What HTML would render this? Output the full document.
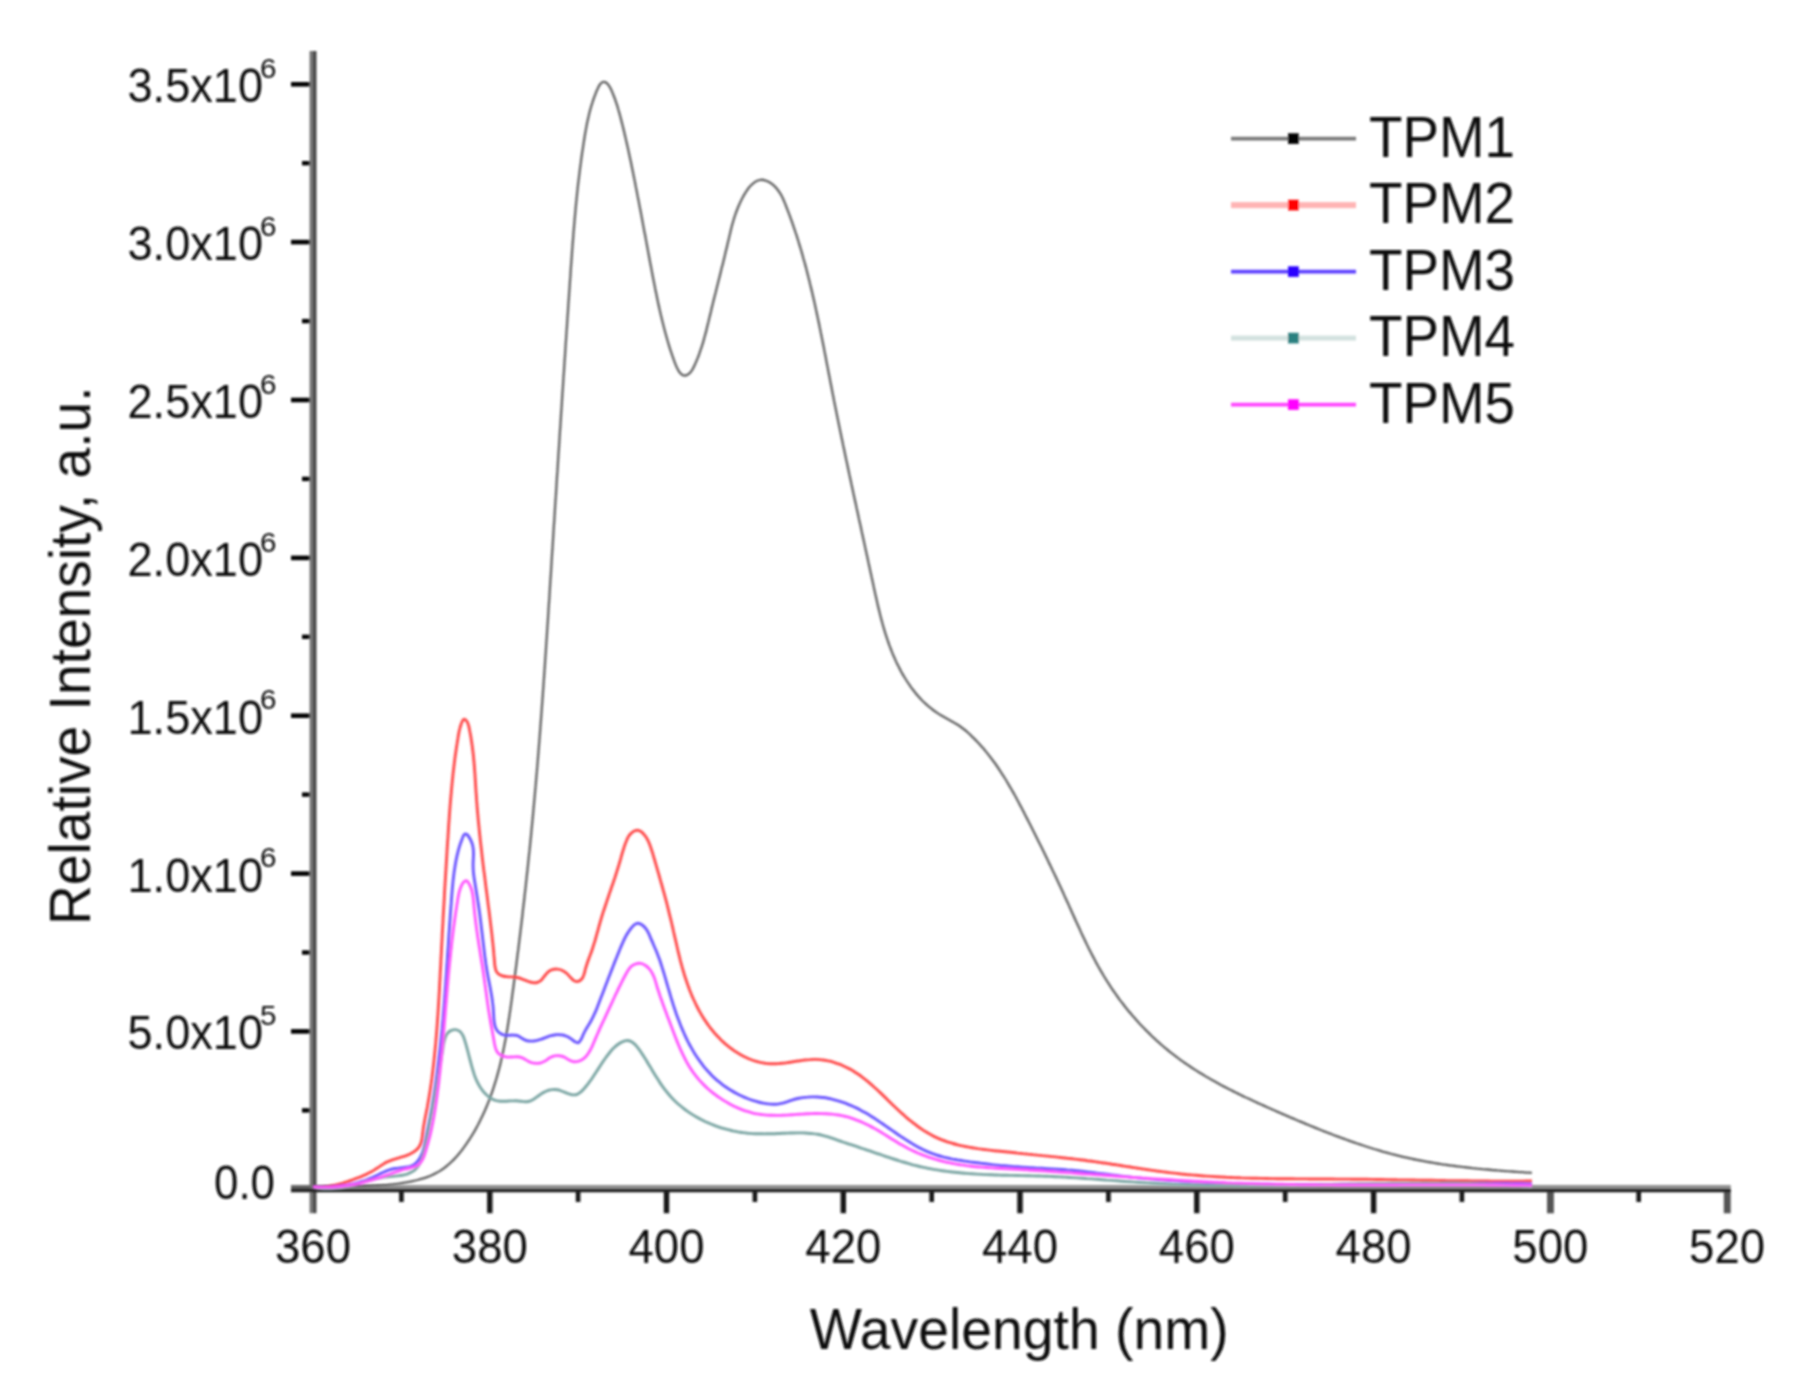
<!DOCTYPE html>
<html lang="en"><head><meta charset="utf-8"><title>Fluorescence spectra TPM1-TPM5</title>
<style>
html,body{margin:0;padding:0;background:#fff;}
body{width:1801px;height:1391px;overflow:hidden;}
svg{display:block;}
text{font-family:"Liberation Sans", Arial, Helvetica, sans-serif;fill:#111;}
.tick{font-size:49px;}
.sup{font-size:28.5px;}
.title{font-size:57.5px;}
.leg{font-size:58px;}
.curve{fill:none;stroke-linejoin:round;stroke-linecap:butt;}
</style></head><body>
<svg width="1801" height="1391" viewBox="0 0 1801 1391">
<defs>
<filter id="b1" x="-5%" y="-5%" width="110%" height="110%"><feGaussianBlur stdDeviation="0.9"/></filter>
<filter id="b2" x="-5%" y="-5%" width="110%" height="110%"><feGaussianBlur stdDeviation="0.95"/></filter>
</defs>
<rect x="0" y="0" width="1801" height="1391" fill="#ffffff"/>
<g filter="url(#b2)">
<rect x="291" y="1187.0" width="20" height="4.6" fill="#000"/>
<rect x="302" y="1108.2" width="9" height="4.4" fill="#000"/>
<rect x="291" y="1029.1" width="20" height="4.6" fill="#000"/>
<rect x="302" y="950.3" width="9" height="4.4" fill="#000"/>
<rect x="291" y="871.3" width="20" height="4.6" fill="#000"/>
<rect x="302" y="792.4" width="9" height="4.4" fill="#000"/>
<rect x="291" y="713.4" width="20" height="4.6" fill="#000"/>
<rect x="302" y="634.6" width="9" height="4.4" fill="#000"/>
<rect x="291" y="555.6" width="20" height="4.6" fill="#000"/>
<rect x="302" y="476.7" width="9" height="4.4" fill="#000"/>
<rect x="291" y="397.7" width="20" height="4.6" fill="#000"/>
<rect x="302" y="318.9" width="9" height="4.4" fill="#000"/>
<rect x="291" y="239.8" width="20" height="4.6" fill="#000"/>
<rect x="302" y="161.0" width="9" height="4.4" fill="#000"/>
<rect x="291" y="82.0" width="20" height="4.6" fill="#000"/>
<rect x="399.1" y="1190" width="4.6" height="12" fill="#151515"/>
<rect x="487.1" y="1190" width="5.4" height="23.2" fill="#151515"/>
<rect x="575.8" y="1190" width="4.6" height="12" fill="#151515"/>
<rect x="663.8" y="1190" width="5.4" height="23.2" fill="#151515"/>
<rect x="752.6" y="1190" width="4.6" height="12" fill="#151515"/>
<rect x="840.6" y="1190" width="5.4" height="23.2" fill="#151515"/>
<rect x="929.4" y="1190" width="4.6" height="12" fill="#151515"/>
<rect x="1017.3" y="1190" width="5.4" height="23.2" fill="#151515"/>
<rect x="1106.1" y="1190" width="4.6" height="12" fill="#151515"/>
<rect x="1194.1" y="1190" width="5.4" height="23.2" fill="#151515"/>
<rect x="1282.9" y="1190" width="4.6" height="12" fill="#151515"/>
<rect x="1370.9" y="1190" width="5.4" height="23.2" fill="#151515"/>
<rect x="1459.6" y="1190" width="4.6" height="12" fill="#151515"/>
<rect x="1547.0" y="1190" width="6.9" height="23.3" fill="#555555"/>
<rect x="1636.4" y="1190" width="4.6" height="12" fill="#151515"/>
<rect x="1723.8" y="1190" width="6.9" height="23.3" fill="#555555"/>
<rect x="309.6" y="51" width="3.1" height="1162.2" fill="#707070"/>
<rect x="312.7" y="51" width="3.8" height="1162.2" fill="#464646"/>
<rect x="316.5" y="1185" width="1414.3" height="3.6" fill="#909090"/>
<rect x="291" y="1188.6" width="1439.8" height="3.7" fill="#222222"/>
<rect x="291" y="1185" width="19" height="3.6" fill="#666"/>
</g>
<g filter="url(#b1)">
<path class="curve" d="M313.0 1187.6C313.8 1187.5 316.3 1187.3 317.9 1187.2C319.6 1187.0 321.3 1186.9 322.9 1186.9C324.6 1186.8 326.2 1186.7 327.9 1186.6C329.6 1186.6 331.2 1186.5 332.9 1186.4C334.5 1186.4 336.2 1186.4 337.9 1186.3C339.6 1186.3 341.2 1186.3 342.9 1186.2C344.6 1186.2 346.2 1186.2 347.9 1186.2C349.6 1186.2 351.3 1186.1 352.9 1186.1C354.6 1186.1 356.3 1186.1 358.0 1186.1C359.6 1186.0 361.3 1186.0 363.0 1186.0C364.6 1185.9 366.3 1185.9 368.0 1185.9C369.7 1185.8 371.3 1185.8 373.0 1185.7C374.7 1185.6 376.3 1185.6 378.0 1185.5C379.7 1185.4 381.3 1185.3 383.0 1185.2C384.7 1185.1 386.3 1185.0 388.0 1184.8C389.6 1184.7 391.3 1184.5 392.9 1184.3C394.6 1184.2 396.2 1184.0 397.9 1183.8C399.5 1183.5 401.2 1183.3 402.8 1183.0C404.5 1182.8 406.1 1182.5 407.7 1182.2C409.4 1181.9 411.0 1181.6 412.6 1181.2C414.2 1180.8 415.8 1180.4 417.5 1180.0C419.1 1179.6 420.7 1179.2 422.3 1178.7C423.9 1178.2 425.5 1177.7 427.0 1177.1C428.6 1176.5 430.1 1175.9 431.7 1175.2C433.2 1174.6 434.7 1173.9 436.1 1173.1C437.6 1172.3 439.0 1171.5 440.4 1170.6C441.8 1169.7 443.1 1168.8 444.4 1167.8C445.7 1166.8 447.0 1165.7 448.3 1164.7C449.5 1163.6 450.8 1162.5 452.0 1161.3C453.2 1160.2 454.3 1159.0 455.5 1157.7C456.6 1156.5 457.7 1155.2 458.8 1153.9C459.9 1152.7 460.9 1151.3 462.0 1150.0C463.0 1148.7 464.0 1147.3 465.0 1145.9C466.0 1144.5 467.0 1143.1 467.9 1141.7C468.8 1140.3 469.7 1138.9 470.6 1137.5C471.5 1136.1 472.4 1134.6 473.3 1133.2C474.1 1131.8 475.0 1130.3 475.8 1128.9C476.6 1127.4 477.4 1125.9 478.2 1124.5C478.9 1123.0 479.7 1121.5 480.4 1120.0C481.2 1118.5 481.9 1117.1 482.6 1115.6C483.3 1114.1 484.0 1112.5 484.7 1111.0C485.3 1109.5 486.0 1108.0 486.6 1106.5C487.3 1105.0 487.9 1103.4 488.5 1101.9C489.1 1100.4 489.7 1098.8 490.2 1097.3C490.8 1095.7 491.4 1094.2 491.9 1092.6C492.5 1091.1 493.0 1089.5 493.5 1087.9C494.0 1086.4 494.5 1084.8 495.0 1083.2C495.5 1081.6 496.0 1080.0 496.4 1078.5C496.9 1076.9 497.3 1075.3 497.8 1073.7C498.2 1072.1 498.6 1070.5 499.1 1068.9C499.5 1067.3 499.9 1065.7 500.3 1064.1C500.7 1062.4 501.0 1060.8 501.4 1059.2C501.8 1057.6 502.2 1056.0 502.5 1054.3C502.9 1052.7 503.2 1051.1 503.5 1049.5C503.9 1047.8 504.2 1046.2 504.5 1044.6C504.8 1042.9 505.2 1041.3 505.5 1039.6C505.8 1038.0 506.1 1036.4 506.3 1034.7C506.6 1033.1 506.9 1031.4 507.2 1029.8C507.5 1028.1 507.7 1026.5 508.0 1024.8C508.3 1023.2 508.5 1021.5 508.8 1019.8C509.0 1018.2 509.3 1016.5 509.5 1014.9C509.8 1013.2 510.0 1011.6 510.3 1009.9C510.5 1008.2 510.7 1006.6 511.0 1004.9C511.2 1003.3 511.4 1001.6 511.7 999.9C511.9 998.3 512.1 996.6 512.3 994.9C512.6 993.3 512.8 991.6 513.0 990.0C513.2 988.3 513.5 986.6 513.7 985.0C513.9 983.3 514.1 981.7 514.3 980.0C514.5 978.3 514.8 976.7 515.0 975.0C515.2 973.4 515.4 971.7 515.6 970.0C515.8 968.4 516.1 966.7 516.3 965.1C516.5 963.4 516.7 961.8 516.9 960.1C517.1 958.4 517.3 956.8 517.5 955.1C517.7 953.5 517.9 951.8 518.2 950.2C518.4 948.5 518.6 946.8 518.8 945.2C519.0 943.5 519.2 941.9 519.4 940.2C519.6 938.6 519.8 936.9 520.0 935.3C520.2 933.6 520.4 931.9 520.6 930.3C520.8 928.6 521.0 927.0 521.2 925.3C521.4 923.7 521.6 922.0 521.8 920.4C522.0 918.7 522.2 917.1 522.4 915.4C522.6 913.7 522.7 912.1 522.9 910.4C523.1 908.8 523.3 907.1 523.5 905.5C523.7 903.8 523.9 902.2 524.1 900.5C524.3 898.9 524.5 897.2 524.6 895.6C524.8 893.9 525.0 892.3 525.2 890.6C525.4 888.9 525.6 887.3 525.8 885.6C525.9 884.0 526.1 882.3 526.3 880.7C526.5 879.0 526.7 877.4 526.8 875.7C527.0 874.1 527.2 872.4 527.4 870.8C527.5 869.1 527.7 867.5 527.9 865.8C528.1 864.2 528.2 862.5 528.4 860.8C528.6 859.2 528.8 857.5 528.9 855.9C529.1 854.2 529.3 852.6 529.5 850.9C529.6 849.3 529.8 847.6 530.0 846.0C530.1 844.3 530.3 842.7 530.5 841.0C530.6 839.3 530.8 837.7 531.0 836.0C531.1 834.4 531.3 832.7 531.4 831.1C531.6 829.4 531.8 827.8 531.9 826.1C532.1 824.5 532.2 822.8 532.4 821.1C532.6 819.5 532.7 817.8 532.9 816.2C533.0 814.5 533.2 812.9 533.3 811.2C533.5 809.6 533.6 807.9 533.8 806.2C533.9 804.6 534.1 802.9 534.2 801.3C534.4 799.6 534.5 798.0 534.7 796.3C534.8 794.6 535.0 793.0 535.1 791.3C535.3 789.7 535.4 788.0 535.6 786.4C535.7 784.7 535.9 783.0 536.0 781.4C536.2 779.7 536.3 778.1 536.4 776.4C536.6 774.7 536.7 773.1 536.9 771.4C537.0 769.8 537.1 768.1 537.3 766.4C537.4 764.8 537.6 763.1 537.7 761.5C537.8 759.8 538.0 758.1 538.1 756.5C538.2 754.8 538.4 753.2 538.5 751.5C538.6 749.8 538.8 748.2 538.9 746.5C539.0 744.8 539.2 743.2 539.3 741.5C539.4 739.9 539.6 738.2 539.7 736.5C539.8 734.9 539.9 733.2 540.1 731.5C540.2 729.9 540.3 728.2 540.4 726.6C540.6 724.9 540.7 723.2 540.8 721.6C541.0 719.9 541.1 718.2 541.2 716.6C541.3 714.9 541.4 713.3 541.6 711.6C541.7 709.9 541.8 708.3 541.9 706.6C542.1 704.9 542.2 703.3 542.3 701.6C542.4 699.9 542.5 698.3 542.7 696.6C542.8 694.9 542.9 693.3 543.0 691.6C543.1 690.0 543.3 688.3 543.4 686.6C543.5 685.0 543.6 683.3 543.7 681.6C543.8 680.0 544.0 678.3 544.1 676.6C544.2 675.0 544.3 673.3 544.4 671.6C544.5 670.0 544.7 668.3 544.8 666.6C544.9 665.0 545.0 663.3 545.1 661.6C545.2 660.0 545.3 658.3 545.4 656.7C545.6 655.0 545.7 653.3 545.8 651.7C545.9 650.0 546.0 648.3 546.1 646.7C546.2 645.0 546.3 643.3 546.4 641.7C546.6 640.0 546.7 638.3 546.8 636.7C546.9 635.0 547.0 633.3 547.1 631.7C547.2 630.0 547.3 628.3 547.4 626.7C547.5 625.0 547.7 623.3 547.8 621.7C547.9 620.0 548.0 618.3 548.1 616.7C548.2 615.0 548.3 613.3 548.4 611.7C548.5 610.0 548.6 608.3 548.7 606.7C548.8 605.0 548.9 603.4 549.1 601.7C549.2 600.0 549.3 598.4 549.4 596.7C549.5 595.0 549.6 593.4 549.7 591.7C549.8 590.0 549.9 588.4 550.0 586.7C550.1 585.0 550.2 583.4 550.3 581.7C550.4 580.0 550.5 578.4 550.7 576.7C550.8 575.0 550.9 573.4 551.0 571.7C551.1 570.1 551.2 568.4 551.3 566.7C551.4 565.1 551.5 563.4 551.6 561.7C551.7 560.1 551.8 558.4 551.9 556.7C552.0 555.1 552.1 553.4 552.2 551.7C552.4 550.1 552.5 548.4 552.6 546.8C552.7 545.1 552.8 543.4 552.9 541.8C553.0 540.1 553.1 538.4 553.2 536.8C553.3 535.1 553.4 533.4 553.5 531.8C553.6 530.1 553.7 528.5 553.8 526.8C553.9 525.1 554.0 523.5 554.2 521.8C554.3 520.1 554.4 518.5 554.5 516.8C554.6 515.1 554.7 513.5 554.8 511.8C554.9 510.2 555.0 508.5 555.1 506.8C555.2 505.2 555.3 503.5 555.4 501.8C555.5 500.2 555.6 498.5 555.8 496.9C555.9 495.2 556.0 493.5 556.1 491.9C556.2 490.2 556.3 488.5 556.4 486.9C556.5 485.2 556.6 483.6 556.7 481.9C556.8 480.2 556.9 478.6 557.0 476.9C557.1 475.2 557.2 473.6 557.4 471.9C557.5 470.3 557.6 468.6 557.7 466.9C557.8 465.3 557.9 463.6 558.0 461.9C558.1 460.3 558.2 458.6 558.3 457.0C558.4 455.3 558.5 453.6 558.6 452.0C558.8 450.3 558.9 448.7 559.0 447.0C559.1 445.3 559.2 443.7 559.3 442.0C559.4 440.3 559.5 438.7 559.6 437.0C559.7 435.4 559.8 433.7 559.9 432.0C560.0 430.4 560.2 428.7 560.3 427.0C560.4 425.4 560.5 423.7 560.6 422.1C560.7 420.4 560.8 418.7 560.9 417.1C561.0 415.4 561.1 413.8 561.2 412.1C561.3 410.4 561.5 408.8 561.6 407.1C561.7 405.4 561.8 403.8 561.9 402.1C562.0 400.5 562.1 398.8 562.2 397.1C562.3 395.5 562.4 393.8 562.5 392.1C562.7 390.5 562.8 388.8 562.9 387.2C563.0 385.5 563.1 383.8 563.2 382.2C563.3 380.5 563.4 378.9 563.5 377.2C563.6 375.5 563.7 373.9 563.9 372.2C564.0 370.5 564.1 368.9 564.2 367.2C564.3 365.6 564.4 363.9 564.5 362.2C564.6 360.6 564.7 358.9 564.9 357.2C565.0 355.6 565.1 353.9 565.2 352.3C565.3 350.6 565.4 348.9 565.5 347.3C565.6 345.6 565.7 343.9 565.8 342.3C566.0 340.6 566.1 339.0 566.2 337.3C566.3 335.6 566.4 334.0 566.5 332.3C566.6 330.6 566.7 329.0 566.9 327.3C567.0 325.7 567.1 324.0 567.2 322.3C567.3 320.7 567.4 319.0 567.5 317.3C567.6 315.7 567.8 314.0 567.9 312.4C568.0 310.7 568.1 309.0 568.2 307.4C568.3 305.7 568.4 304.0 568.5 302.4C568.7 300.7 568.8 299.0 568.9 297.4C569.0 295.7 569.1 294.1 569.2 292.4C569.3 290.7 569.5 289.1 569.6 287.4C569.7 285.7 569.8 284.1 569.9 282.4C570.0 280.7 570.1 279.1 570.3 277.4C570.4 275.8 570.5 274.1 570.6 272.4C570.7 270.8 570.8 269.1 570.9 267.4C571.1 265.8 571.2 264.1 571.3 262.4C571.4 260.8 571.5 259.1 571.7 257.5C571.8 255.8 571.9 254.1 572.0 252.5C572.1 250.8 572.3 249.1 572.4 247.5C572.5 245.8 572.6 244.1 572.8 242.5C572.9 240.8 573.0 239.2 573.2 237.5C573.3 235.8 573.4 234.2 573.5 232.5C573.7 230.8 573.8 229.2 574.0 227.5C574.1 225.9 574.2 224.2 574.4 222.5C574.5 220.9 574.7 219.2 574.8 217.5C575.0 215.9 575.1 214.2 575.3 212.6C575.4 210.9 575.6 209.2 575.7 207.6C575.9 205.9 576.0 204.3 576.2 202.6C576.4 201.0 576.5 199.3 576.7 197.6C576.9 196.0 577.0 194.3 577.2 192.7C577.4 191.0 577.6 189.4 577.7 187.7C577.9 186.0 578.1 184.4 578.3 182.7C578.5 181.1 578.7 179.4 578.9 177.8C579.1 176.1 579.3 174.5 579.5 172.8C579.7 171.2 579.9 169.5 580.1 167.9C580.3 166.2 580.5 164.6 580.8 162.9C581.0 161.3 581.2 159.6 581.4 158.0C581.7 156.3 581.9 154.7 582.1 153.0C582.4 151.4 582.6 149.7 582.9 148.1C583.1 146.4 583.4 144.8 583.6 143.1C583.9 141.5 584.1 139.9 584.4 138.2C584.7 136.6 584.9 134.9 585.2 133.3C585.5 131.7 585.8 130.0 586.1 128.4C586.4 126.7 586.7 125.1 587.0 123.5C587.4 121.8 587.7 120.2 588.1 118.6C588.5 116.9 588.8 115.3 589.2 113.7C589.6 112.0 590.1 110.4 590.5 108.8C591.0 107.1 591.4 105.5 592.0 103.9C592.5 102.3 593.0 100.6 593.6 99.0C594.1 97.4 594.7 95.8 595.4 94.2C596.0 92.5 596.6 90.8 597.4 89.3C598.1 87.8 598.8 86.2 599.6 85.0C600.4 83.8 601.3 82.7 602.2 82.2C603.1 81.7 604.2 81.7 605.2 82.1C606.2 82.5 607.3 83.5 608.3 84.7C609.2 85.9 610.1 87.6 611.0 89.2C611.8 90.9 612.5 92.8 613.2 94.5C613.9 96.3 614.6 98.0 615.2 99.7C615.8 101.4 616.3 103.1 616.9 104.7C617.4 106.3 617.9 107.9 618.3 109.5C618.8 111.1 619.2 112.7 619.7 114.2C620.1 115.8 620.5 117.3 620.9 118.9C621.3 120.5 621.7 122.1 622.1 123.6C622.5 125.2 622.9 126.8 623.3 128.4C623.7 130.0 624.1 131.6 624.5 133.2C624.8 134.8 625.2 136.4 625.6 138.0C626.0 139.7 626.3 141.3 626.7 142.9C627.1 144.5 627.4 146.2 627.8 147.8C628.2 149.4 628.5 151.1 628.9 152.7C629.2 154.3 629.6 156.0 629.9 157.6C630.3 159.3 630.6 160.9 631.0 162.5C631.3 164.2 631.6 165.8 632.0 167.5C632.3 169.1 632.7 170.8 633.0 172.4C633.3 174.1 633.7 175.7 634.0 177.4C634.3 179.0 634.6 180.6 635.0 182.3C635.3 183.9 635.6 185.6 635.9 187.2C636.3 188.8 636.6 190.5 636.9 192.1C637.2 193.8 637.5 195.4 637.8 197.0C638.2 198.7 638.5 200.3 638.8 201.9C639.1 203.6 639.4 205.2 639.7 206.8C640.0 208.4 640.4 210.1 640.7 211.7C641.0 213.3 641.3 215.0 641.6 216.6C641.9 218.2 642.2 219.9 642.5 221.5C642.8 223.1 643.1 224.7 643.4 226.4C643.7 228.0 644.0 229.6 644.3 231.3C644.6 232.9 645.0 234.5 645.3 236.2C645.6 237.8 645.9 239.4 646.2 241.1C646.5 242.7 646.8 244.3 647.1 246.0C647.4 247.6 647.7 249.2 648.0 250.9C648.3 252.5 648.6 254.1 648.9 255.8C649.2 257.4 649.5 259.1 649.8 260.7C650.1 262.4 650.4 264.0 650.8 265.7C651.1 267.3 651.4 268.9 651.7 270.6C652.0 272.2 652.3 273.9 652.6 275.5C652.9 277.2 653.3 278.8 653.6 280.5C653.9 282.1 654.2 283.8 654.6 285.4C654.9 287.1 655.2 288.7 655.5 290.4C655.9 292.0 656.2 293.6 656.6 295.3C656.9 296.9 657.2 298.6 657.6 300.2C657.9 301.8 658.3 303.5 658.6 305.1C659.0 306.7 659.4 308.3 659.7 310.0C660.1 311.6 660.5 313.2 660.8 314.8C661.2 316.4 661.6 318.0 662.0 319.7C662.4 321.3 662.8 322.9 663.2 324.5C663.6 326.1 664.0 327.7 664.4 329.2C664.8 330.8 665.2 332.4 665.7 334.0C666.1 335.6 666.5 337.1 667.0 338.7C667.4 340.3 667.9 341.8 668.4 343.4C668.8 344.9 669.3 346.5 669.8 348.1C670.3 349.7 670.8 351.3 671.4 352.9C671.9 354.5 672.5 356.2 673.1 357.9C673.7 359.6 674.3 361.3 675.0 363.1C675.7 364.8 676.4 366.7 677.2 368.2C678.0 369.8 678.8 371.4 679.7 372.5C680.7 373.7 681.7 374.6 682.8 375.1C683.9 375.5 685.1 375.6 686.2 375.3C687.4 375.0 688.5 374.3 689.5 373.3C690.5 372.4 691.5 371.0 692.4 369.6C693.2 368.2 694.1 366.5 694.8 364.8C695.6 363.2 696.3 361.4 697.0 359.7C697.7 358.0 698.3 356.3 699.0 354.7C699.6 353.0 700.1 351.4 700.7 349.7C701.3 348.1 701.8 346.5 702.3 344.9C702.8 343.3 703.3 341.7 703.7 340.1C704.2 338.5 704.6 336.9 705.0 335.3C705.5 333.8 705.9 332.2 706.3 330.6C706.7 329.0 707.0 327.5 707.4 325.9C707.8 324.3 708.2 322.8 708.6 321.2C708.9 319.6 709.3 318.0 709.7 316.5C710.1 314.9 710.5 313.3 710.9 311.7C711.2 310.1 711.6 308.5 712.0 306.9C712.4 305.3 712.8 303.6 713.2 302.0C713.6 300.4 714.0 298.8 714.4 297.2C714.8 295.5 715.2 293.9 715.7 292.3C716.1 290.6 716.5 289.0 716.9 287.3C717.3 285.7 717.7 284.1 718.1 282.4C718.5 280.8 719.0 279.1 719.4 277.5C719.8 275.8 720.2 274.2 720.6 272.6C721.0 270.9 721.4 269.3 721.8 267.6C722.2 266.0 722.7 264.4 723.1 262.7C723.5 261.1 723.9 259.5 724.3 257.8C724.7 256.2 725.1 254.6 725.4 252.9C725.8 251.3 726.2 249.7 726.6 248.1C727.0 246.5 727.4 244.9 727.7 243.3C728.1 241.7 728.5 240.1 728.9 238.5C729.2 236.9 729.6 235.3 730.0 233.8C730.3 232.2 730.7 230.6 731.1 229.0C731.5 227.5 731.9 225.9 732.3 224.3C732.8 222.8 733.2 221.2 733.7 219.6C734.2 218.1 734.6 216.5 735.2 214.9C735.7 213.4 736.3 211.8 736.9 210.3C737.5 208.7 738.1 207.1 738.8 205.6C739.5 204.0 740.2 202.4 741.0 200.8C741.7 199.2 742.6 197.6 743.4 196.1C744.3 194.5 745.3 192.9 746.3 191.4C747.3 189.9 748.3 188.4 749.4 187.1C750.5 185.8 751.7 184.6 752.9 183.6C754.1 182.5 755.3 181.6 756.6 181.0C758.0 180.4 759.3 179.9 760.7 179.8C762.1 179.7 763.6 179.8 765.1 180.3C766.5 180.7 768.1 181.4 769.5 182.3C770.9 183.1 772.4 184.3 773.7 185.4C775.0 186.6 776.2 187.9 777.3 189.2C778.4 190.6 779.3 192.0 780.2 193.4C781.1 194.8 781.8 196.3 782.6 197.8C783.3 199.3 783.9 200.8 784.6 202.4C785.2 203.9 785.8 205.5 786.4 207.0C787.0 208.6 787.6 210.1 788.2 211.7C788.8 213.2 789.4 214.8 790.0 216.4C790.5 217.9 791.1 219.5 791.7 221.1C792.2 222.6 792.8 224.2 793.3 225.8C793.8 227.3 794.4 228.9 794.9 230.5C795.4 232.1 795.9 233.6 796.5 235.2C797.0 236.8 797.5 238.4 798.0 240.0C798.5 241.6 799.0 243.2 799.4 244.7C799.9 246.3 800.4 247.9 800.9 249.5C801.4 251.1 801.8 252.7 802.3 254.3C802.7 255.9 803.2 257.5 803.6 259.1C804.1 260.7 804.5 262.3 805.0 263.9C805.4 265.5 805.8 267.1 806.3 268.8C806.7 270.4 807.1 272.0 807.5 273.6C807.9 275.2 808.3 276.8 808.7 278.4C809.2 280.0 809.6 281.7 809.9 283.3C810.3 284.9 810.7 286.5 811.1 288.1C811.5 289.8 811.9 291.4 812.3 293.0C812.6 294.6 813.0 296.3 813.4 297.9C813.8 299.5 814.1 301.1 814.5 302.8C814.9 304.4 815.2 306.0 815.6 307.7C815.9 309.3 816.3 310.9 816.6 312.6C817.0 314.2 817.3 315.8 817.7 317.5C818.0 319.1 818.4 320.7 818.7 322.4C819.1 324.0 819.4 325.6 819.7 327.3C820.1 328.9 820.4 330.5 820.7 332.2C821.1 333.8 821.4 335.5 821.7 337.1C822.0 338.7 822.4 340.4 822.7 342.0C823.0 343.7 823.3 345.3 823.7 346.9C824.0 348.6 824.3 350.2 824.6 351.9C824.9 353.5 825.3 355.1 825.6 356.8C825.9 358.4 826.2 360.1 826.5 361.7C826.8 363.3 827.2 365.0 827.5 366.6C827.8 368.3 828.1 369.9 828.4 371.5C828.7 373.2 829.0 374.8 829.4 376.5C829.7 378.1 830.0 379.7 830.3 381.4C830.6 383.0 830.9 384.7 831.3 386.3C831.6 387.9 831.9 389.6 832.2 391.2C832.5 392.8 832.9 394.5 833.2 396.1C833.5 397.7 833.8 399.4 834.1 401.0C834.5 402.6 834.8 404.3 835.1 405.9C835.4 407.5 835.8 409.2 836.1 410.8C836.4 412.4 836.8 414.1 837.1 415.7C837.4 417.3 837.8 419.0 838.1 420.6C838.4 422.2 838.7 423.9 839.1 425.5C839.4 427.1 839.8 428.8 840.1 430.4C840.4 432.0 840.8 433.6 841.1 435.3C841.4 436.9 841.8 438.5 842.1 440.1C842.5 441.8 842.8 443.4 843.1 445.0C843.5 446.7 843.8 448.3 844.2 449.9C844.5 451.5 844.8 453.2 845.2 454.8C845.5 456.4 845.9 458.0 846.2 459.7C846.6 461.3 846.9 462.9 847.3 464.5C847.6 466.2 847.9 467.8 848.3 469.4C848.6 471.0 849.0 472.7 849.3 474.3C849.7 475.9 850.0 477.5 850.4 479.2C850.7 480.8 851.1 482.4 851.4 484.0C851.8 485.7 852.1 487.3 852.5 488.9C852.8 490.5 853.2 492.2 853.5 493.8C853.9 495.4 854.2 497.1 854.6 498.7C854.9 500.3 855.3 501.9 855.7 503.6C856.0 505.2 856.4 506.8 856.7 508.4C857.1 510.1 857.4 511.7 857.8 513.3C858.1 514.9 858.5 516.6 858.8 518.2C859.2 519.8 859.5 521.4 859.9 523.1C860.3 524.7 860.6 526.3 861.0 528.0C861.3 529.6 861.7 531.2 862.0 532.8C862.4 534.5 862.7 536.1 863.1 537.7C863.5 539.4 863.8 541.0 864.2 542.6C864.5 544.3 864.9 545.9 865.2 547.5C865.6 549.2 865.9 550.8 866.3 552.4C866.6 554.1 867.0 555.7 867.4 557.3C867.7 559.0 868.1 560.6 868.4 562.2C868.8 563.9 869.1 565.5 869.5 567.1C869.8 568.8 870.2 570.4 870.5 572.0C870.9 573.7 871.3 575.3 871.6 577.0C872.0 578.6 872.3 580.2 872.7 581.9C873.0 583.5 873.4 585.2 873.7 586.8C874.1 588.4 874.4 590.1 874.8 591.7C875.2 593.4 875.5 595.0 875.9 596.6C876.3 598.3 876.6 599.9 877.0 601.5C877.4 603.2 877.7 604.8 878.1 606.4C878.5 608.1 878.9 609.7 879.3 611.3C879.7 613.0 880.1 614.6 880.5 616.2C880.9 617.8 881.4 619.4 881.8 621.0C882.2 622.7 882.7 624.3 883.1 625.9C883.6 627.5 884.1 629.1 884.5 630.7C885.0 632.3 885.5 633.8 886.0 635.4C886.5 637.0 887.0 638.6 887.6 640.2C888.1 641.7 888.7 643.3 889.2 644.8C889.8 646.4 890.4 647.9 891.0 649.5C891.6 651.0 892.2 652.6 892.8 654.1C893.4 655.6 894.1 657.1 894.8 658.6C895.4 660.1 896.1 661.7 896.8 663.1C897.6 664.6 898.3 666.1 899.1 667.6C899.8 669.1 900.6 670.5 901.4 672.0C902.2 673.4 903.0 674.9 903.9 676.3C904.7 677.7 905.6 679.1 906.5 680.5C907.4 681.9 908.3 683.3 909.3 684.7C910.2 686.1 911.2 687.4 912.2 688.8C913.2 690.1 914.2 691.4 915.3 692.7C916.3 694.0 917.4 695.3 918.5 696.5C919.6 697.8 920.7 699.0 921.9 700.2C923.1 701.4 924.3 702.5 925.5 703.6C926.7 704.8 927.9 705.9 929.2 706.9C930.5 708.0 931.8 709.0 933.1 710.0C934.4 711.0 935.8 712.0 937.2 712.9C938.5 713.8 940.0 714.7 941.4 715.5C942.8 716.4 944.3 717.2 945.8 718.0C947.2 718.8 948.7 719.6 950.2 720.4C951.7 721.2 953.2 722.0 954.6 722.9C956.0 723.7 957.5 724.6 958.9 725.5C960.3 726.5 961.6 727.5 962.9 728.5C964.3 729.5 965.6 730.6 966.9 731.7C968.1 732.8 969.4 733.9 970.6 735.1C971.8 736.2 973.0 737.4 974.2 738.6C975.4 739.8 976.6 741.0 977.7 742.2C978.9 743.4 980.0 744.7 981.1 745.9C982.2 747.2 983.3 748.4 984.4 749.7C985.5 751.0 986.5 752.3 987.6 753.6C988.6 754.9 989.6 756.2 990.6 757.5C991.6 758.8 992.6 760.1 993.6 761.5C994.6 762.8 995.6 764.2 996.5 765.5C997.5 766.9 998.4 768.3 999.3 769.6C1000.2 771.0 1001.1 772.4 1002.0 773.8C1002.9 775.2 1003.8 776.6 1004.7 778.0C1005.6 779.4 1006.5 780.8 1007.3 782.3C1008.2 783.7 1009.0 785.1 1009.8 786.6C1010.7 788.0 1011.5 789.5 1012.3 790.9C1013.2 792.4 1014.0 793.8 1014.8 795.3C1015.6 796.7 1016.4 798.2 1017.2 799.7C1018.0 801.1 1018.7 802.6 1019.5 804.1C1020.3 805.5 1021.1 807.0 1021.9 808.5C1022.6 810.0 1023.4 811.5 1024.2 812.9C1024.9 814.4 1025.7 815.9 1026.4 817.4C1027.2 818.9 1028.0 820.4 1028.7 821.8C1029.5 823.3 1030.2 824.8 1031.0 826.3C1031.7 827.8 1032.5 829.3 1033.2 830.8C1034.0 832.2 1034.7 833.7 1035.5 835.2C1036.2 836.7 1036.9 838.2 1037.7 839.7C1038.4 841.2 1039.2 842.7 1039.9 844.1C1040.6 845.6 1041.4 847.1 1042.1 848.6C1042.8 850.1 1043.6 851.6 1044.3 853.1C1045.0 854.6 1045.7 856.1 1046.5 857.6C1047.2 859.1 1047.9 860.6 1048.6 862.1C1049.4 863.6 1050.1 865.0 1050.8 866.5C1051.5 868.0 1052.2 869.5 1052.9 871.0C1053.7 872.5 1054.4 874.0 1055.1 875.6C1055.8 877.1 1056.5 878.6 1057.2 880.1C1057.9 881.6 1058.6 883.1 1059.3 884.6C1060.0 886.1 1060.7 887.6 1061.4 889.1C1062.1 890.6 1062.8 892.1 1063.5 893.6C1064.2 895.2 1064.9 896.7 1065.6 898.2C1066.3 899.7 1067.0 901.2 1067.7 902.7C1068.4 904.3 1069.1 905.8 1069.7 907.3C1070.4 908.8 1071.1 910.4 1071.8 911.9C1072.5 913.4 1073.2 914.9 1073.9 916.5C1074.5 918.0 1075.2 919.5 1075.9 921.0C1076.6 922.5 1077.3 924.1 1078.0 925.6C1078.7 927.1 1079.4 928.6 1080.1 930.1C1080.8 931.7 1081.5 933.2 1082.2 934.7C1082.9 936.2 1083.6 937.7 1084.4 939.2C1085.1 940.7 1085.8 942.2 1086.5 943.7C1087.3 945.2 1088.0 946.7 1088.7 948.2C1089.5 949.7 1090.2 951.2 1091.0 952.7C1091.7 954.2 1092.5 955.7 1093.3 957.1C1094.1 958.6 1094.8 960.1 1095.6 961.6C1096.4 963.0 1097.2 964.5 1098.0 966.0C1098.8 967.4 1099.7 968.9 1100.5 970.3C1101.3 971.7 1102.2 973.2 1103.0 974.6C1103.9 976.0 1104.7 977.5 1105.6 978.9C1106.5 980.3 1107.4 981.7 1108.3 983.1C1109.2 984.5 1110.1 985.9 1111.0 987.3C1111.9 988.7 1112.9 990.1 1113.8 991.4C1114.8 992.8 1115.7 994.2 1116.7 995.5C1117.7 996.9 1118.7 998.2 1119.6 999.6C1120.6 1000.9 1121.6 1002.2 1122.7 1003.5C1123.7 1004.9 1124.7 1006.2 1125.7 1007.5C1126.8 1008.8 1127.8 1010.1 1128.9 1011.4C1130.0 1012.6 1131.0 1013.9 1132.1 1015.2C1133.2 1016.4 1134.3 1017.7 1135.4 1018.9C1136.5 1020.2 1137.6 1021.4 1138.7 1022.7C1139.9 1023.9 1141.0 1025.1 1142.1 1026.3C1143.3 1027.5 1144.5 1028.7 1145.6 1029.9C1146.8 1031.1 1148.0 1032.2 1149.2 1033.4C1150.3 1034.6 1151.5 1035.7 1152.7 1036.9C1154.0 1038.0 1155.2 1039.1 1156.4 1040.3C1157.6 1041.4 1158.9 1042.5 1160.1 1043.6C1161.4 1044.7 1162.6 1045.8 1163.9 1046.9C1165.1 1047.9 1166.4 1049.0 1167.7 1050.0C1169.0 1051.1 1170.3 1052.1 1171.6 1053.2C1172.9 1054.2 1174.2 1055.2 1175.5 1056.2C1176.8 1057.2 1178.2 1058.2 1179.5 1059.2C1180.9 1060.2 1182.2 1061.1 1183.6 1062.1C1184.9 1063.0 1186.3 1064.0 1187.7 1064.9C1189.0 1065.8 1190.4 1066.8 1191.8 1067.7C1193.2 1068.6 1194.6 1069.5 1196.0 1070.4C1197.4 1071.3 1198.8 1072.1 1200.2 1073.0C1201.6 1073.9 1203.1 1074.7 1204.5 1075.6C1205.9 1076.5 1207.3 1077.3 1208.8 1078.1C1210.2 1079.0 1211.7 1079.8 1213.1 1080.6C1214.6 1081.4 1216.0 1082.2 1217.5 1083.0C1219.0 1083.8 1220.4 1084.6 1221.9 1085.4C1223.4 1086.2 1224.9 1087.0 1226.4 1087.7C1227.8 1088.5 1229.3 1089.3 1230.8 1090.0C1232.3 1090.8 1233.8 1091.5 1235.3 1092.3C1236.8 1093.0 1238.3 1093.8 1239.8 1094.5C1241.3 1095.2 1242.8 1096.0 1244.3 1096.7C1245.9 1097.4 1247.4 1098.1 1248.9 1098.8C1250.4 1099.6 1251.9 1100.3 1253.5 1101.0C1255.0 1101.7 1256.5 1102.4 1258.0 1103.1C1259.6 1103.8 1261.1 1104.5 1262.6 1105.1C1264.1 1105.8 1265.7 1106.5 1267.2 1107.2C1268.7 1107.9 1270.3 1108.6 1271.8 1109.2C1273.3 1109.9 1274.9 1110.6 1276.4 1111.3C1278.0 1111.9 1279.5 1112.6 1281.0 1113.3C1282.6 1113.9 1284.1 1114.6 1285.6 1115.3C1287.2 1115.9 1288.7 1116.6 1290.2 1117.3C1291.8 1117.9 1293.3 1118.6 1294.8 1119.2C1296.4 1119.9 1297.9 1120.5 1299.4 1121.2C1301.0 1121.8 1302.5 1122.5 1304.1 1123.1C1305.6 1123.8 1307.1 1124.4 1308.7 1125.0C1310.2 1125.7 1311.7 1126.3 1313.3 1126.9C1314.8 1127.6 1316.4 1128.2 1317.9 1128.8C1319.4 1129.4 1321.0 1130.1 1322.5 1130.7C1324.1 1131.3 1325.6 1131.9 1327.2 1132.5C1328.7 1133.1 1330.3 1133.7 1331.8 1134.3C1333.4 1134.9 1334.9 1135.5 1336.5 1136.1C1338.0 1136.7 1339.6 1137.2 1341.1 1137.8C1342.7 1138.4 1344.2 1139.0 1345.8 1139.5C1347.4 1140.1 1348.9 1140.6 1350.5 1141.2C1352.0 1141.7 1353.6 1142.3 1355.2 1142.8C1356.7 1143.4 1358.3 1143.9 1359.9 1144.4C1361.4 1144.9 1363.0 1145.5 1364.6 1146.0C1366.2 1146.5 1367.7 1147.0 1369.3 1147.5C1370.9 1148.0 1372.5 1148.5 1374.1 1149.0C1375.6 1149.4 1377.2 1149.9 1378.8 1150.4C1380.4 1150.9 1382.0 1151.3 1383.6 1151.8C1385.2 1152.2 1386.8 1152.7 1388.4 1153.1C1390.0 1153.5 1391.6 1154.0 1393.2 1154.4C1394.8 1154.8 1396.4 1155.2 1398.0 1155.6C1399.7 1156.0 1401.3 1156.4 1402.9 1156.8C1404.5 1157.2 1406.1 1157.5 1407.8 1157.9C1409.4 1158.3 1411.0 1158.6 1412.6 1159.0C1414.3 1159.3 1415.9 1159.6 1417.6 1160.0C1419.2 1160.3 1420.8 1160.6 1422.5 1160.9C1424.1 1161.2 1425.8 1161.5 1427.4 1161.8C1429.1 1162.1 1430.7 1162.4 1432.4 1162.7C1434.0 1163.0 1435.7 1163.2 1437.3 1163.5C1439.0 1163.8 1440.7 1164.0 1442.3 1164.3C1444.0 1164.5 1445.7 1164.8 1447.3 1165.0C1449.0 1165.2 1450.6 1165.5 1452.3 1165.7C1454.0 1165.9 1455.6 1166.1 1457.3 1166.3C1459.0 1166.5 1460.6 1166.7 1462.3 1166.9C1464.0 1167.1 1465.7 1167.3 1467.3 1167.5C1469.0 1167.7 1470.7 1167.9 1472.3 1168.1C1474.0 1168.2 1475.7 1168.4 1477.3 1168.6C1479.0 1168.7 1480.7 1168.9 1482.3 1169.1C1484.0 1169.2 1485.7 1169.4 1487.3 1169.5C1489.0 1169.7 1490.7 1169.8 1492.3 1170.0C1494.0 1170.1 1495.7 1170.2 1497.3 1170.4C1499.0 1170.5 1500.6 1170.7 1502.3 1170.8C1503.9 1170.9 1505.6 1171.0 1507.3 1171.2C1508.9 1171.3 1510.6 1171.4 1512.2 1171.5C1513.9 1171.7 1515.5 1171.8 1517.1 1171.9C1518.8 1172.0 1520.4 1172.1 1522.1 1172.2C1523.7 1172.3 1525.3 1172.5 1527.0 1172.6C1528.6 1172.7 1531.0 1172.8 1531.9 1172.9" stroke="#5f5f5f" stroke-width="2.3"/>
<path class="curve" d="M313.0 1186.8C313.8 1186.8 316.4 1187.0 318.1 1187.1C319.8 1187.1 321.5 1187.0 323.1 1186.9C324.8 1186.8 326.4 1186.6 328.1 1186.4C329.7 1186.1 331.4 1185.8 333.0 1185.5C334.6 1185.2 336.2 1184.8 337.8 1184.4C339.5 1184.0 341.1 1183.5 342.7 1183.1C344.3 1182.6 345.9 1182.1 347.4 1181.6C349.0 1181.0 350.6 1180.5 352.2 1180.0C353.8 1179.4 355.4 1178.8 356.9 1178.2C358.5 1177.7 360.1 1177.0 361.6 1176.4C363.1 1175.8 364.7 1175.1 366.2 1174.4C367.7 1173.7 369.2 1172.9 370.6 1172.1C372.1 1171.3 373.5 1170.5 374.9 1169.6C376.4 1168.7 377.7 1167.8 379.1 1166.9C380.5 1165.9 381.9 1165.0 383.3 1164.1C384.7 1163.2 386.1 1162.4 387.7 1161.7C389.2 1161.0 390.7 1160.4 392.3 1159.8C393.9 1159.3 395.6 1158.8 397.2 1158.3C398.8 1157.8 400.5 1157.4 402.1 1156.9C403.8 1156.4 405.4 1155.9 406.9 1155.3C408.5 1154.7 410.0 1154.1 411.4 1153.3C412.9 1152.6 414.3 1151.7 415.5 1150.7C416.8 1149.6 418.0 1148.4 418.9 1147.1C419.8 1145.8 420.5 1144.3 421.0 1142.7C421.6 1141.1 421.9 1139.5 422.1 1137.8C422.4 1136.1 422.5 1134.3 422.8 1132.6C423.0 1130.9 423.2 1129.2 423.4 1127.5C423.7 1125.8 424.0 1124.2 424.3 1122.5C424.6 1120.9 424.9 1119.2 425.2 1117.6C425.6 1116.0 425.9 1114.3 426.2 1112.7C426.5 1111.1 426.8 1109.4 427.2 1107.8C427.5 1106.2 427.8 1104.5 428.0 1102.9C428.3 1101.3 428.6 1099.6 428.9 1098.0C429.2 1096.3 429.4 1094.7 429.7 1093.1C430.0 1091.4 430.2 1089.8 430.5 1088.1C430.7 1086.5 430.9 1084.8 431.2 1083.2C431.4 1081.5 431.6 1079.9 431.9 1078.2C432.1 1076.6 432.3 1074.9 432.5 1073.3C432.7 1071.6 432.9 1070.0 433.1 1068.3C433.3 1066.7 433.5 1065.0 433.7 1063.4C433.9 1061.7 434.1 1060.1 434.2 1058.4C434.4 1056.7 434.6 1055.1 434.7 1053.4C434.9 1051.8 435.1 1050.1 435.2 1048.4C435.4 1046.8 435.5 1045.1 435.7 1043.4C435.8 1041.8 436.0 1040.1 436.1 1038.4C436.3 1036.8 436.4 1035.1 436.5 1033.5C436.7 1031.8 436.8 1030.1 436.9 1028.5C437.1 1026.8 437.2 1025.1 437.3 1023.4C437.4 1021.8 437.5 1020.1 437.6 1018.4C437.8 1016.8 437.9 1015.1 438.0 1013.4C438.1 1011.8 438.2 1010.1 438.3 1008.4C438.4 1006.8 438.5 1005.1 438.6 1003.4C438.7 1001.7 438.8 1000.1 438.9 998.4C439.0 996.7 439.1 995.1 439.2 993.4C439.3 991.7 439.4 990.0 439.5 988.4C439.5 986.7 439.6 985.0 439.7 983.3C439.8 981.7 439.9 980.0 440.0 978.3C440.1 976.7 440.2 975.0 440.2 973.3C440.3 971.6 440.4 970.0 440.5 968.3C440.6 966.6 440.7 965.0 440.8 963.3C440.8 961.6 440.9 959.9 441.0 958.3C441.1 956.6 441.2 954.9 441.3 953.3C441.4 951.6 441.5 949.9 441.5 948.3C441.6 946.6 441.7 944.9 441.8 943.3C441.9 941.6 442.0 939.9 442.1 938.2C442.2 936.6 442.2 934.9 442.3 933.2C442.4 931.6 442.5 929.9 442.6 928.2C442.7 926.6 442.8 924.9 442.9 923.2C443.0 921.6 443.1 919.9 443.1 918.2C443.2 916.6 443.3 914.9 443.4 913.2C443.5 911.6 443.6 909.9 443.7 908.2C443.8 906.6 443.9 904.9 444.0 903.2C444.1 901.6 444.2 899.9 444.3 898.2C444.4 896.6 444.4 894.9 444.5 893.2C444.6 891.6 444.7 889.9 444.8 888.2C444.9 886.6 445.0 884.9 445.1 883.2C445.2 881.6 445.3 879.9 445.4 878.3C445.5 876.6 445.6 874.9 445.7 873.3C445.8 871.6 445.9 869.9 446.0 868.3C446.1 866.6 446.2 864.9 446.3 863.3C446.4 861.6 446.5 859.9 446.6 858.3C446.7 856.6 446.8 854.9 446.9 853.3C447.0 851.6 447.1 849.9 447.2 848.3C447.3 846.6 447.4 844.9 447.5 843.3C447.6 841.6 447.7 840.0 447.9 838.3C448.0 836.6 448.1 835.0 448.2 833.3C448.3 831.6 448.4 830.0 448.5 828.3C448.6 826.6 448.7 825.0 448.8 823.3C449.0 821.6 449.1 820.0 449.2 818.3C449.3 816.6 449.4 815.0 449.5 813.3C449.7 811.6 449.8 810.0 449.9 808.3C450.0 806.6 450.2 805.0 450.3 803.3C450.4 801.7 450.6 800.0 450.7 798.3C450.9 796.7 451.0 795.0 451.2 793.3C451.3 791.7 451.4 790.0 451.6 788.3C451.8 786.7 451.9 785.0 452.1 783.3C452.2 781.7 452.4 780.0 452.6 778.4C452.8 776.7 452.9 775.0 453.1 773.4C453.3 771.7 453.5 770.0 453.7 768.4C453.9 766.7 454.1 765.1 454.3 763.4C454.5 761.7 454.7 760.1 454.9 758.4C455.1 756.8 455.4 755.1 455.6 753.4C455.8 751.8 456.1 750.1 456.3 748.5C456.6 746.8 456.8 745.1 457.1 743.5C457.3 741.8 457.6 740.2 457.9 738.5C458.1 736.8 458.4 735.2 458.7 733.5C459.0 731.9 459.3 730.2 459.8 728.6C460.2 726.9 460.7 725.2 461.3 723.7C461.9 722.2 462.6 720.1 463.5 719.5C464.4 719.0 465.6 719.7 466.4 720.6C467.2 721.5 468.0 723.5 468.5 725.2C469.1 726.9 469.4 728.9 469.7 730.7C470.1 732.5 470.4 734.3 470.7 736.0C471.0 737.7 471.2 739.4 471.5 741.1C471.7 742.7 472.0 744.3 472.2 745.9C472.4 747.6 472.6 749.2 472.8 750.7C473.0 752.3 473.2 753.9 473.4 755.5C473.5 757.1 473.7 758.7 473.8 760.3C474.0 761.9 474.1 763.6 474.3 765.2C474.4 766.8 474.5 768.5 474.6 770.1C474.8 771.8 474.9 773.4 475.0 775.1C475.1 776.7 475.2 778.4 475.3 780.1C475.4 781.8 475.5 783.4 475.6 785.1C475.7 786.8 475.8 788.5 475.9 790.1C476.0 791.8 476.2 793.5 476.3 795.2C476.4 796.9 476.5 798.5 476.6 800.2C476.8 801.9 476.9 803.6 477.0 805.2C477.1 806.9 477.3 808.6 477.4 810.3C477.6 812.0 477.7 813.6 477.9 815.3C478.0 817.0 478.2 818.6 478.3 820.3C478.5 822.0 478.6 823.7 478.8 825.3C479.0 827.0 479.1 828.7 479.3 830.3C479.5 832.0 479.6 833.7 479.8 835.3C480.0 837.0 480.2 838.7 480.3 840.3C480.5 842.0 480.7 843.7 480.9 845.3C481.1 847.0 481.3 848.7 481.5 850.3C481.7 852.0 481.8 853.7 482.0 855.3C482.2 857.0 482.4 858.6 482.6 860.3C482.8 862.0 483.0 863.6 483.2 865.3C483.4 866.9 483.6 868.6 483.8 870.2C484.1 871.9 484.3 873.5 484.5 875.2C484.7 876.9 484.9 878.5 485.1 880.2C485.3 881.8 485.5 883.5 485.7 885.1C485.9 886.8 486.1 888.4 486.3 890.1C486.6 891.7 486.8 893.4 487.0 895.0C487.2 896.6 487.4 898.3 487.6 899.9C487.8 901.6 488.0 903.2 488.2 904.9C488.4 906.5 488.7 908.1 488.9 909.8C489.1 911.4 489.3 913.1 489.5 914.7C489.7 916.4 489.9 918.0 490.1 919.7C490.3 921.3 490.5 923.0 490.7 924.6C490.9 926.3 491.1 927.9 491.3 929.6C491.5 931.2 491.7 932.9 491.9 934.6C492.1 936.2 492.2 937.9 492.4 939.6C492.6 941.3 492.8 942.9 493.0 944.6C493.1 946.3 493.3 948.0 493.5 949.7C493.6 951.4 493.8 953.1 493.9 954.9C494.1 956.6 494.2 958.3 494.4 960.0C494.5 961.8 494.6 963.6 494.8 965.3C495.1 966.9 495.3 968.7 495.8 970.1C496.4 971.5 497.2 972.9 498.3 973.8C499.5 974.8 501.2 975.5 502.8 976.0C504.3 976.5 506.2 976.6 507.9 976.8C509.5 976.9 511.0 976.8 512.5 976.9C514.1 977.0 515.6 977.1 517.2 977.5C518.9 977.9 520.6 978.5 522.3 979.1C524.0 979.7 525.8 980.5 527.5 981.1C529.2 981.6 530.9 982.2 532.5 982.5C534.1 982.7 535.7 982.9 537.1 982.5C538.5 982.2 539.8 981.4 541.0 980.4C542.2 979.3 543.2 977.6 544.3 976.3C545.5 974.9 546.6 973.2 547.9 972.1C549.2 971.0 550.7 970.1 552.3 969.6C553.9 969.1 555.6 969.0 557.2 969.1C558.9 969.2 560.5 969.6 562.0 970.3C563.6 970.9 565.0 971.9 566.4 973.1C567.8 974.2 569.0 975.9 570.3 977.2C571.5 978.5 572.7 980.1 574.1 980.8C575.4 981.4 576.9 981.7 578.3 981.4C579.6 981.0 581.2 979.7 582.2 978.5C583.1 977.2 583.6 975.5 584.2 973.8C584.8 972.2 585.0 970.4 585.5 968.7C586.0 967.1 586.5 965.4 587.0 963.8C587.5 962.2 588.1 960.7 588.7 959.1C589.2 957.6 589.8 956.0 590.4 954.5C591.0 953.0 591.5 951.4 592.1 949.9C592.6 948.3 593.1 946.7 593.6 945.1C594.1 943.6 594.6 942.0 595.1 940.4C595.5 938.8 596.0 937.2 596.4 935.6C596.9 934.0 597.3 932.3 597.8 930.7C598.2 929.1 598.7 927.5 599.1 925.9C599.6 924.3 600.0 922.7 600.5 921.0C601.0 919.4 601.5 917.8 601.9 916.2C602.4 914.6 602.9 913.0 603.4 911.4C604.0 909.8 604.5 908.3 605.0 906.7C605.5 905.1 606.0 903.5 606.6 901.9C607.1 900.3 607.7 898.7 608.2 897.2C608.7 895.6 609.3 894.0 609.8 892.4C610.4 890.8 610.9 889.3 611.4 887.7C612.0 886.1 612.5 884.5 613.1 882.9C613.6 881.4 614.1 879.8 614.7 878.2C615.2 876.6 615.7 875.0 616.2 873.5C616.7 871.9 617.2 870.3 617.7 868.7C618.2 867.1 618.7 865.5 619.2 863.9C619.7 862.3 620.1 860.7 620.6 859.1C621.0 857.5 621.5 855.9 621.9 854.3C622.4 852.7 622.9 851.1 623.4 849.5C623.9 847.9 624.4 846.3 624.9 844.7C625.5 843.2 626.1 841.6 626.8 840.0C627.5 838.5 628.1 836.9 629.1 835.5C630.1 834.2 631.3 832.7 632.7 831.9C634.1 831.0 635.9 830.3 637.4 830.3C638.9 830.3 640.3 831.1 641.6 832.0C642.9 832.9 644.1 834.5 645.2 835.9C646.2 837.2 647.1 838.8 647.9 840.3C648.7 841.9 649.3 843.4 649.9 845.0C650.5 846.5 651.0 848.1 651.5 849.7C652.0 851.3 652.5 852.8 653.0 854.4C653.4 856.0 653.9 857.6 654.4 859.2C654.8 860.8 655.3 862.4 655.8 864.0C656.2 865.6 656.7 867.2 657.2 868.8C657.6 870.4 658.1 872.0 658.6 873.6C659.0 875.2 659.5 876.8 659.9 878.4C660.4 880.0 660.8 881.6 661.3 883.2C661.8 884.8 662.2 886.4 662.6 888.0C663.1 889.6 663.5 891.2 664.0 892.9C664.4 894.5 664.8 896.1 665.3 897.7C665.7 899.3 666.1 900.9 666.6 902.5C667.0 904.2 667.4 905.8 667.8 907.4C668.2 909.0 668.6 910.6 669.0 912.3C669.4 913.9 669.8 915.5 670.2 917.1C670.6 918.8 671.0 920.4 671.4 922.0C671.8 923.7 672.1 925.3 672.5 926.9C672.9 928.5 673.3 930.2 673.6 931.8C674.0 933.4 674.4 935.1 674.7 936.7C675.1 938.3 675.5 940.0 675.9 941.6C676.2 943.2 676.6 944.9 677.0 946.5C677.4 948.1 677.7 949.7 678.1 951.4C678.5 953.0 678.9 954.6 679.3 956.2C679.7 957.8 680.1 959.5 680.5 961.1C681.0 962.7 681.4 964.3 681.8 965.9C682.3 967.5 682.7 969.1 683.2 970.7C683.7 972.3 684.1 973.9 684.6 975.5C685.1 977.1 685.6 978.7 686.2 980.3C686.7 981.9 687.2 983.4 687.8 985.0C688.4 986.6 688.9 988.2 689.5 989.7C690.1 991.3 690.8 992.8 691.4 994.4C692.0 995.9 692.7 997.5 693.4 999.0C694.1 1000.5 694.8 1002.0 695.5 1003.5C696.2 1005.0 697.0 1006.5 697.7 1008.0C698.5 1009.5 699.3 1011.0 700.1 1012.4C701.0 1013.9 701.8 1015.3 702.7 1016.7C703.5 1018.2 704.4 1019.6 705.4 1020.9C706.3 1022.3 707.2 1023.7 708.2 1025.0C709.2 1026.4 710.2 1027.7 711.2 1029.0C712.3 1030.3 713.3 1031.6 714.4 1032.9C715.5 1034.1 716.6 1035.4 717.8 1036.6C718.9 1037.8 720.1 1039.0 721.3 1040.2C722.5 1041.3 723.7 1042.5 725.0 1043.6C726.3 1044.7 727.6 1045.7 728.9 1046.8C730.2 1047.8 731.6 1048.9 733.0 1049.8C734.3 1050.8 735.8 1051.7 737.2 1052.6C738.6 1053.5 740.1 1054.4 741.6 1055.2C743.0 1056.0 744.5 1056.8 746.1 1057.5C747.6 1058.2 749.1 1058.9 750.7 1059.5C752.2 1060.1 753.8 1060.6 755.4 1061.1C757.0 1061.6 758.6 1062.0 760.2 1062.4C761.8 1062.7 763.4 1063.0 765.0 1063.3C766.7 1063.5 768.3 1063.7 770.0 1063.7C771.6 1063.8 773.2 1063.8 774.9 1063.8C776.6 1063.8 778.2 1063.6 779.9 1063.5C781.5 1063.4 783.2 1063.2 784.9 1063.0C786.5 1062.7 788.2 1062.5 789.9 1062.2C791.6 1062.0 793.2 1061.7 794.9 1061.4C796.6 1061.2 798.3 1060.9 799.9 1060.7C801.6 1060.4 803.3 1060.2 805.0 1060.0C806.6 1059.8 808.3 1059.7 810.0 1059.6C811.7 1059.4 813.3 1059.4 815.0 1059.4C816.6 1059.4 818.3 1059.5 820.0 1059.6C821.6 1059.7 823.3 1060.0 824.9 1060.2C826.5 1060.5 828.2 1060.8 829.8 1061.2C831.4 1061.6 833.0 1062.1 834.6 1062.6C836.2 1063.1 837.8 1063.6 839.3 1064.2C840.9 1064.8 842.4 1065.5 844.0 1066.2C845.5 1066.9 847.0 1067.6 848.5 1068.4C850.0 1069.1 851.4 1070.0 852.9 1070.8C854.3 1071.7 855.7 1072.6 857.1 1073.5C858.5 1074.4 859.8 1075.3 861.2 1076.3C862.5 1077.3 863.8 1078.3 865.1 1079.3C866.4 1080.3 867.7 1081.3 868.9 1082.4C870.2 1083.5 871.4 1084.6 872.7 1085.7C873.9 1086.8 875.1 1087.9 876.4 1089.0C877.6 1090.1 878.8 1091.3 880.0 1092.4C881.2 1093.6 882.4 1094.7 883.6 1095.9C884.8 1097.1 886.0 1098.2 887.2 1099.4C888.4 1100.6 889.6 1101.8 890.8 1102.9C892.0 1104.1 893.2 1105.3 894.5 1106.5C895.7 1107.6 896.9 1108.8 898.2 1110.0C899.4 1111.1 900.7 1112.3 901.9 1113.4C903.2 1114.5 904.5 1115.7 905.7 1116.8C907.0 1117.9 908.3 1119.0 909.6 1120.1C910.9 1121.1 912.2 1122.2 913.6 1123.2C914.9 1124.3 916.2 1125.3 917.6 1126.3C918.9 1127.2 920.3 1128.2 921.7 1129.1C923.1 1130.1 924.5 1131.0 925.9 1131.8C927.3 1132.7 928.7 1133.5 930.2 1134.3C931.6 1135.1 933.1 1135.9 934.5 1136.6C936.0 1137.3 937.5 1138.0 939.0 1138.6C940.5 1139.3 942.1 1139.9 943.6 1140.5C945.1 1141.0 946.7 1141.6 948.2 1142.1C949.8 1142.6 951.4 1143.1 953.0 1143.5C954.5 1144.0 956.1 1144.4 957.8 1144.8C959.4 1145.2 961.0 1145.6 962.6 1145.9C964.2 1146.3 965.9 1146.6 967.5 1146.9C969.1 1147.2 970.8 1147.5 972.4 1147.8C974.1 1148.1 975.8 1148.3 977.4 1148.6C979.1 1148.8 980.8 1149.0 982.4 1149.3C984.1 1149.5 985.8 1149.7 987.4 1149.9C989.1 1150.1 990.8 1150.3 992.5 1150.5C994.2 1150.6 995.8 1150.8 997.5 1151.0C999.2 1151.2 1000.9 1151.4 1002.5 1151.5C1004.2 1151.7 1005.9 1151.9 1007.6 1152.0C1009.2 1152.2 1010.9 1152.4 1012.6 1152.5C1014.3 1152.7 1015.9 1152.9 1017.6 1153.1C1019.3 1153.2 1020.9 1153.4 1022.6 1153.6C1024.3 1153.7 1025.9 1153.9 1027.6 1154.1C1029.3 1154.2 1030.9 1154.4 1032.6 1154.6C1034.2 1154.7 1035.9 1154.9 1037.6 1155.1C1039.2 1155.2 1040.9 1155.4 1042.5 1155.6C1044.2 1155.7 1045.9 1155.9 1047.5 1156.1C1049.2 1156.3 1050.8 1156.4 1052.5 1156.6C1054.1 1156.8 1055.8 1157.0 1057.4 1157.1C1059.1 1157.3 1060.8 1157.5 1062.4 1157.7C1064.1 1157.9 1065.7 1158.1 1067.4 1158.3C1069.0 1158.4 1070.7 1158.6 1072.3 1158.8C1074.0 1159.0 1075.6 1159.2 1077.3 1159.4C1078.9 1159.6 1080.6 1159.8 1082.2 1160.0C1083.9 1160.2 1085.5 1160.4 1087.2 1160.7C1088.8 1160.9 1090.5 1161.1 1092.1 1161.3C1093.8 1161.5 1095.4 1161.8 1097.1 1162.0C1098.7 1162.2 1100.4 1162.5 1102.0 1162.7C1103.7 1162.9 1105.3 1163.2 1107.0 1163.4C1108.6 1163.7 1110.3 1163.9 1111.9 1164.2C1113.6 1164.4 1115.2 1164.7 1116.9 1164.9C1118.5 1165.2 1120.2 1165.4 1121.8 1165.7C1123.5 1166.0 1125.1 1166.2 1126.8 1166.5C1128.4 1166.7 1130.1 1167.0 1131.7 1167.3C1133.4 1167.5 1135.0 1167.8 1136.7 1168.0C1138.4 1168.3 1140.0 1168.5 1141.7 1168.8C1143.3 1169.0 1145.0 1169.3 1146.6 1169.5C1148.3 1169.8 1149.9 1170.0 1151.6 1170.3C1153.2 1170.5 1154.9 1170.7 1156.6 1171.0C1158.2 1171.2 1159.9 1171.4 1161.5 1171.6C1163.2 1171.9 1164.8 1172.1 1166.5 1172.3C1168.2 1172.5 1169.8 1172.7 1171.5 1172.9C1173.1 1173.1 1174.8 1173.3 1176.4 1173.4C1178.1 1173.6 1179.8 1173.8 1181.4 1174.0C1183.1 1174.1 1184.8 1174.3 1186.4 1174.5C1188.1 1174.6 1189.7 1174.8 1191.4 1174.9C1193.1 1175.1 1194.7 1175.2 1196.4 1175.3C1198.0 1175.5 1199.7 1175.6 1201.4 1175.7C1203.0 1175.9 1204.7 1176.0 1206.4 1176.1C1208.0 1176.2 1209.7 1176.3 1211.4 1176.4C1213.0 1176.5 1214.7 1176.6 1216.4 1176.7C1218.0 1176.8 1219.7 1176.9 1221.4 1177.0C1223.0 1177.1 1224.7 1177.2 1226.4 1177.3C1228.0 1177.3 1229.7 1177.4 1231.4 1177.5C1233.0 1177.6 1234.7 1177.6 1236.4 1177.7C1238.0 1177.8 1239.7 1177.8 1241.4 1177.9C1243.0 1177.9 1244.7 1178.0 1246.4 1178.1C1248.0 1178.1 1249.7 1178.2 1251.4 1178.2C1253.1 1178.2 1254.7 1178.3 1256.4 1178.3C1258.1 1178.4 1259.7 1178.4 1261.4 1178.4C1263.1 1178.5 1264.7 1178.5 1266.4 1178.5C1268.1 1178.6 1269.8 1178.6 1271.4 1178.6C1273.1 1178.6 1274.8 1178.7 1276.4 1178.7C1278.1 1178.7 1279.8 1178.7 1281.5 1178.8C1283.1 1178.8 1284.8 1178.8 1286.5 1178.8C1288.1 1178.8 1289.8 1178.8 1291.5 1178.8C1293.2 1178.9 1294.8 1178.9 1296.5 1178.9C1298.2 1178.9 1299.8 1178.9 1301.5 1178.9C1303.2 1178.9 1304.9 1178.9 1306.5 1178.9C1308.2 1178.9 1309.9 1179.0 1311.5 1179.0C1313.2 1179.0 1314.9 1179.0 1316.6 1179.0C1318.2 1179.0 1319.9 1179.0 1321.6 1179.0C1323.2 1179.0 1324.9 1179.0 1326.6 1179.0C1328.3 1179.0 1329.9 1179.0 1331.6 1179.0C1333.3 1179.1 1334.9 1179.1 1336.6 1179.1C1338.3 1179.1 1340.0 1179.1 1341.6 1179.1C1343.3 1179.1 1345.0 1179.1 1346.6 1179.1C1348.3 1179.1 1350.0 1179.2 1351.7 1179.2C1353.3 1179.2 1355.0 1179.2 1356.7 1179.2C1358.3 1179.2 1360.0 1179.3 1361.7 1179.3C1363.4 1179.3 1365.0 1179.3 1366.7 1179.3C1368.4 1179.4 1370.0 1179.4 1371.7 1179.4C1373.4 1179.4 1375.0 1179.4 1376.7 1179.5C1378.4 1179.5 1380.0 1179.5 1381.7 1179.5C1383.4 1179.6 1385.1 1179.6 1386.7 1179.6C1388.4 1179.6 1390.1 1179.7 1391.7 1179.7C1393.4 1179.7 1395.1 1179.7 1396.7 1179.8C1398.4 1179.8 1400.1 1179.8 1401.8 1179.9C1403.4 1179.9 1405.1 1179.9 1406.8 1179.9C1408.4 1180.0 1410.1 1180.0 1411.8 1180.0C1413.4 1180.0 1415.1 1180.1 1416.8 1180.1C1418.4 1180.1 1420.1 1180.2 1421.8 1180.2C1423.4 1180.2 1425.1 1180.2 1426.8 1180.3C1428.5 1180.3 1430.1 1180.3 1431.8 1180.3C1433.5 1180.4 1435.1 1180.4 1436.8 1180.4C1438.5 1180.5 1440.1 1180.5 1441.8 1180.5C1443.5 1180.5 1445.1 1180.6 1446.8 1180.6C1448.5 1180.6 1450.2 1180.6 1451.8 1180.7C1453.5 1180.7 1455.2 1180.7 1456.8 1180.7C1458.5 1180.7 1460.2 1180.8 1461.8 1180.8C1463.5 1180.8 1465.2 1180.8 1466.8 1180.8C1468.5 1180.9 1470.2 1180.9 1471.9 1180.9C1473.5 1180.9 1475.2 1180.9 1476.9 1180.9C1478.5 1181.0 1480.2 1181.0 1481.9 1181.0C1483.5 1181.0 1485.2 1181.0 1486.9 1181.0C1488.6 1181.0 1490.2 1181.0 1491.9 1181.1C1493.6 1181.1 1495.2 1181.1 1496.9 1181.1C1498.6 1181.1 1500.2 1181.1 1501.9 1181.1C1503.6 1181.1 1505.3 1181.1 1506.9 1181.1C1508.6 1181.1 1510.3 1181.1 1511.9 1181.1C1513.6 1181.1 1515.3 1181.1 1517.0 1181.1C1518.6 1181.1 1520.3 1181.1 1522.0 1181.1C1523.6 1181.0 1525.3 1181.0 1527.0 1181.0C1528.7 1181.0 1531.2 1181.0 1532.0 1181.0" stroke="#ff4a4a" stroke-width="2.9"/>
<path class="curve" d="M313.0 1186.8C313.8 1186.9 316.3 1187.1 318.0 1187.1C319.7 1187.2 321.3 1187.3 323.0 1187.3C324.7 1187.3 326.4 1187.3 328.0 1187.2C329.7 1187.1 331.4 1187.1 333.0 1186.9C334.7 1186.8 336.4 1186.7 338.0 1186.5C339.7 1186.3 341.4 1186.1 343.0 1185.8C344.7 1185.6 346.3 1185.3 348.0 1185.0C349.6 1184.6 351.2 1184.3 352.9 1183.9C354.5 1183.5 356.1 1183.1 357.7 1182.7C359.3 1182.2 360.9 1181.7 362.5 1181.2C364.1 1180.7 365.7 1180.1 367.2 1179.5C368.8 1178.9 370.3 1178.3 371.9 1177.7C373.4 1177.0 374.9 1176.3 376.4 1175.6C377.9 1174.9 379.4 1174.1 380.9 1173.4C382.4 1172.7 383.9 1172.0 385.5 1171.3C387.0 1170.7 388.6 1170.1 390.2 1169.6C391.8 1169.1 393.5 1168.8 395.2 1168.5C396.9 1168.2 398.7 1168.1 400.4 1167.9C402.2 1167.7 403.9 1167.6 405.6 1167.3C407.3 1167.1 409.0 1166.8 410.5 1166.3C412.0 1165.7 413.4 1165.0 414.7 1164.1C415.9 1163.2 417.1 1162.0 418.1 1160.7C419.1 1159.5 419.9 1158.1 420.6 1156.7C421.4 1155.3 422.0 1153.7 422.6 1152.2C423.1 1150.6 423.6 1149.0 424.0 1147.3C424.4 1145.7 424.8 1144.0 425.1 1142.3C425.5 1140.6 425.8 1138.9 426.1 1137.2C426.4 1135.5 426.7 1133.9 427.1 1132.2C427.4 1130.6 427.7 1128.9 428.0 1127.3C428.4 1125.7 428.7 1124.1 429.0 1122.5C429.3 1120.8 429.6 1119.2 430.0 1117.6C430.3 1116.0 430.6 1114.4 430.9 1112.7C431.2 1111.1 431.5 1109.5 431.8 1107.9C432.1 1106.2 432.3 1104.6 432.6 1102.9C432.9 1101.3 433.2 1099.7 433.4 1098.0C433.7 1096.4 434.0 1094.7 434.2 1093.1C434.5 1091.4 434.7 1089.8 435.0 1088.1C435.2 1086.5 435.5 1084.8 435.7 1083.2C435.9 1081.5 436.2 1079.9 436.4 1078.2C436.6 1076.6 436.9 1074.9 437.1 1073.3C437.3 1071.6 437.5 1069.9 437.7 1068.3C437.9 1066.6 438.1 1065.0 438.3 1063.3C438.6 1061.7 438.8 1060.0 438.9 1058.3C439.1 1056.7 439.3 1055.0 439.5 1053.4C439.7 1051.7 439.9 1050.0 440.1 1048.4C440.3 1046.7 440.4 1045.1 440.6 1043.4C440.8 1041.7 440.9 1040.1 441.1 1038.4C441.3 1036.7 441.4 1035.1 441.6 1033.4C441.8 1031.8 441.9 1030.1 442.1 1028.4C442.2 1026.8 442.4 1025.1 442.5 1023.4C442.7 1021.8 442.8 1020.1 443.0 1018.4C443.1 1016.8 443.3 1015.1 443.4 1013.5C443.5 1011.8 443.7 1010.1 443.8 1008.5C443.9 1006.8 444.1 1005.1 444.2 1003.5C444.3 1001.8 444.5 1000.1 444.6 998.5C444.7 996.8 444.8 995.1 445.0 993.5C445.1 991.8 445.2 990.1 445.3 988.5C445.5 986.8 445.6 985.1 445.7 983.5C445.8 981.8 445.9 980.1 446.0 978.5C446.2 976.8 446.3 975.2 446.4 973.5C446.5 971.8 446.6 970.2 446.7 968.5C446.8 966.8 446.9 965.2 447.1 963.5C447.2 961.8 447.3 960.2 447.4 958.5C447.5 956.8 447.6 955.2 447.7 953.5C447.8 951.8 447.9 950.2 448.1 948.5C448.2 946.9 448.3 945.2 448.4 943.5C448.5 941.9 448.6 940.2 448.7 938.5C448.8 936.9 448.9 935.2 449.0 933.5C449.2 931.9 449.3 930.2 449.4 928.6C449.5 926.9 449.6 925.2 449.7 923.6C449.8 921.9 450.0 920.3 450.1 918.6C450.2 916.9 450.3 915.3 450.4 913.6C450.5 912.0 450.7 910.3 450.8 908.6C450.9 907.0 451.0 905.3 451.2 903.7C451.3 902.0 451.4 900.4 451.5 898.7C451.7 897.1 451.8 895.4 451.9 893.7C452.1 892.1 452.2 890.4 452.3 888.8C452.5 887.1 452.6 885.5 452.8 883.8C452.9 882.2 453.1 880.5 453.3 878.9C453.5 877.2 453.7 875.6 453.9 873.9C454.1 872.3 454.3 870.6 454.6 869.0C454.8 867.3 455.1 865.7 455.4 864.0C455.7 862.4 456.0 860.7 456.3 859.1C456.7 857.4 457.0 855.8 457.4 854.1C457.8 852.5 458.3 850.8 458.7 849.2C459.2 847.5 459.7 845.9 460.2 844.2C460.8 842.6 461.3 840.9 462.0 839.3C462.6 837.7 463.2 835.5 464.0 834.7C464.8 833.9 466.0 833.8 467.0 834.5C468.0 835.3 469.4 837.6 470.3 839.2C471.2 840.9 471.9 842.7 472.4 844.4C472.9 846.1 473.1 847.7 473.3 849.4C473.5 851.1 473.5 852.7 473.5 854.3C473.5 856.0 473.4 857.6 473.3 859.2C473.2 860.8 473.1 862.4 473.1 864.1C473.1 865.7 473.1 867.4 473.2 869.0C473.3 870.7 473.4 872.3 473.6 874.0C473.8 875.7 474.0 877.3 474.3 879.0C474.5 880.7 474.8 882.3 475.1 884.0C475.3 885.7 475.6 887.3 475.9 889.0C476.2 890.6 476.4 892.3 476.7 893.9C477.0 895.6 477.2 897.2 477.5 898.9C477.7 900.5 478.0 902.1 478.2 903.8C478.5 905.4 478.7 907.1 479.0 908.7C479.2 910.3 479.4 912.0 479.7 913.6C479.9 915.3 480.1 916.9 480.3 918.6C480.5 920.2 480.7 921.9 480.9 923.5C481.1 925.2 481.3 926.9 481.5 928.5C481.7 930.2 481.9 931.9 482.1 933.5C482.3 935.2 482.5 936.9 482.7 938.6C482.9 940.2 483.1 941.9 483.3 943.6C483.5 945.2 483.7 946.9 483.9 948.6C484.1 950.3 484.3 951.9 484.5 953.6C484.7 955.2 484.9 956.9 485.1 958.6C485.4 960.2 485.6 961.9 485.8 963.5C486.1 965.2 486.3 966.8 486.6 968.4C486.9 970.1 487.1 971.7 487.4 973.3C487.7 974.9 488.0 976.5 488.3 978.2C488.6 979.8 489.0 981.4 489.3 983.0C489.6 984.6 489.9 986.2 490.2 987.8C490.5 989.4 490.8 991.1 491.1 992.7C491.4 994.3 491.7 996.0 491.9 997.6C492.2 999.3 492.4 1001.0 492.6 1002.7C492.9 1004.3 493.0 1006.1 493.2 1007.8C493.3 1009.5 493.4 1011.3 493.5 1013.1C493.7 1014.9 493.7 1016.7 493.8 1018.5C494.0 1020.2 494.1 1022.0 494.4 1023.6C494.7 1025.2 495.1 1026.8 495.8 1028.2C496.4 1029.6 497.3 1030.9 498.4 1032.0C499.5 1033.0 500.9 1034.0 502.4 1034.5C503.9 1035.1 505.7 1035.3 507.4 1035.4C509.1 1035.5 511.0 1034.9 512.7 1035.0C514.4 1035.0 516.0 1035.0 517.5 1035.6C519.1 1036.1 520.3 1037.4 521.8 1038.2C523.2 1039.1 524.7 1040.0 526.3 1040.5C527.8 1040.9 529.6 1041.1 531.3 1041.1C532.9 1041.2 534.7 1040.9 536.4 1040.6C538.1 1040.3 539.8 1039.7 541.4 1039.2C543.1 1038.6 544.6 1037.9 546.2 1037.3C547.8 1036.7 549.3 1036.1 550.9 1035.7C552.5 1035.2 554.1 1034.9 555.7 1034.7C557.3 1034.6 559.0 1034.6 560.6 1034.8C562.3 1034.9 563.9 1035.3 565.5 1035.9C567.1 1036.4 568.7 1037.2 570.2 1038.2C571.8 1039.1 573.3 1040.9 574.7 1041.6C576.0 1042.4 577.3 1043.2 578.4 1042.7C579.5 1042.3 580.4 1040.4 581.3 1038.9C582.2 1037.4 582.9 1035.1 583.8 1033.4C584.6 1031.7 585.5 1030.2 586.3 1028.7C587.2 1027.2 588.0 1025.9 588.9 1024.5C589.7 1023.2 590.5 1021.9 591.2 1020.5C592.0 1019.1 592.7 1017.6 593.4 1016.1C594.1 1014.7 594.8 1013.2 595.5 1011.7C596.1 1010.1 596.8 1008.6 597.4 1007.0C598.0 1005.5 598.6 1003.9 599.2 1002.3C599.8 1000.8 600.4 999.2 601.0 997.6C601.6 996.0 602.2 994.5 602.8 992.9C603.4 991.3 604.0 989.7 604.6 988.2C605.2 986.6 605.8 985.1 606.4 983.5C607.0 981.9 607.6 980.4 608.2 978.8C608.8 977.3 609.4 975.7 610.0 974.2C610.6 972.6 611.2 971.1 611.8 969.6C612.4 968.0 613.0 966.5 613.6 964.9C614.2 963.4 614.8 961.8 615.4 960.3C616.1 958.7 616.7 957.2 617.3 955.7C617.9 954.1 618.6 952.6 619.2 951.0C619.8 949.5 620.4 947.9 621.1 946.4C621.7 944.8 622.4 943.3 623.1 941.8C623.8 940.2 624.5 938.7 625.3 937.2C626.1 935.8 626.9 934.3 627.8 932.9C628.7 931.5 629.6 930.0 630.7 928.7C631.8 927.4 632.9 925.8 634.1 924.9C635.4 924.0 636.8 923.1 638.2 923.2C639.7 923.3 641.5 924.4 642.9 925.5C644.3 926.5 645.6 928.2 646.6 929.6C647.6 931.0 648.2 932.4 648.9 933.9C649.6 935.4 650.1 936.8 650.8 938.4C651.4 939.9 652.1 941.4 652.8 942.9C653.4 944.5 654.1 946.0 654.8 947.6C655.5 949.1 656.1 950.7 656.8 952.3C657.4 953.9 658.0 955.4 658.6 957.0C659.2 958.6 659.7 960.1 660.3 961.7C660.8 963.3 661.3 964.9 661.8 966.4C662.4 968.0 662.8 969.6 663.3 971.2C663.8 972.8 664.3 974.3 664.7 975.9C665.2 977.5 665.7 979.1 666.1 980.7C666.6 982.3 667.0 983.9 667.5 985.5C667.9 987.0 668.4 988.6 668.9 990.2C669.3 991.8 669.8 993.4 670.3 995.0C670.7 996.6 671.2 998.2 671.7 999.8C672.2 1001.4 672.7 1003.0 673.2 1004.6C673.7 1006.2 674.3 1007.8 674.8 1009.4C675.3 1011.0 675.9 1012.6 676.4 1014.2C677.0 1015.8 677.6 1017.4 678.2 1019.0C678.8 1020.6 679.4 1022.1 680.0 1023.7C680.6 1025.3 681.2 1026.8 681.9 1028.4C682.5 1029.9 683.2 1031.5 683.9 1033.0C684.6 1034.5 685.3 1036.1 686.0 1037.6C686.7 1039.1 687.4 1040.6 688.2 1042.1C689.0 1043.5 689.7 1045.0 690.6 1046.5C691.4 1047.9 692.2 1049.4 693.0 1050.8C693.9 1052.2 694.7 1053.6 695.6 1055.0C696.5 1056.4 697.4 1057.8 698.4 1059.2C699.3 1060.5 700.3 1061.9 701.3 1063.2C702.2 1064.5 703.3 1065.8 704.3 1067.1C705.3 1068.3 706.4 1069.6 707.5 1070.8C708.6 1072.0 709.7 1073.2 710.9 1074.4C712.0 1075.6 713.2 1076.8 714.4 1077.9C715.7 1079.0 716.9 1080.1 718.2 1081.2C719.5 1082.3 720.8 1083.3 722.1 1084.3C723.4 1085.3 724.8 1086.3 726.2 1087.3C727.6 1088.2 729.0 1089.2 730.5 1090.0C731.9 1090.9 733.4 1091.8 734.9 1092.6C736.4 1093.4 737.9 1094.2 739.4 1095.0C740.9 1095.7 742.5 1096.4 744.0 1097.1C745.6 1097.8 747.2 1098.4 748.7 1099.0C750.3 1099.6 751.9 1100.1 753.5 1100.6C755.1 1101.1 756.7 1101.6 758.3 1102.0C759.9 1102.4 761.5 1102.8 763.2 1103.1C764.8 1103.4 766.4 1103.7 768.0 1103.9C769.6 1104.1 771.3 1104.3 772.9 1104.3C774.5 1104.3 776.1 1104.3 777.8 1104.1C779.4 1103.9 781.0 1103.6 782.7 1103.2C784.3 1102.8 785.9 1102.1 787.6 1101.6C789.3 1101.0 790.9 1100.3 792.6 1099.8C794.2 1099.3 795.9 1098.9 797.6 1098.5C799.2 1098.2 800.9 1097.8 802.6 1097.6C804.3 1097.4 806.0 1097.2 807.6 1097.1C809.3 1096.9 811.0 1096.9 812.7 1096.9C814.3 1096.9 816.0 1096.9 817.7 1097.0C819.3 1097.1 821.0 1097.3 822.7 1097.5C824.3 1097.7 826.0 1097.9 827.6 1098.2C829.3 1098.5 830.9 1098.9 832.6 1099.3C834.2 1099.7 835.8 1100.1 837.4 1100.6C839.1 1101.0 840.7 1101.5 842.3 1102.1C843.9 1102.6 845.4 1103.2 847.0 1103.8C848.6 1104.5 850.1 1105.1 851.7 1105.8C853.2 1106.5 854.7 1107.2 856.3 1107.9C857.8 1108.6 859.3 1109.4 860.7 1110.2C862.2 1111.0 863.7 1111.8 865.1 1112.6C866.5 1113.4 868.0 1114.3 869.4 1115.1C870.8 1116.0 872.2 1116.9 873.6 1117.8C875.0 1118.7 876.3 1119.6 877.7 1120.5C879.1 1121.4 880.5 1122.3 881.8 1123.3C883.2 1124.2 884.5 1125.2 885.9 1126.1C887.3 1127.1 888.6 1128.0 890.0 1129.0C891.4 1129.9 892.7 1130.9 894.1 1131.8C895.5 1132.8 896.9 1133.8 898.3 1134.7C899.7 1135.6 901.0 1136.6 902.5 1137.5C903.9 1138.4 905.3 1139.4 906.7 1140.3C908.1 1141.2 909.5 1142.1 911.0 1142.9C912.4 1143.8 913.8 1144.6 915.3 1145.5C916.8 1146.3 918.2 1147.1 919.7 1147.9C921.2 1148.6 922.7 1149.4 924.2 1150.1C925.7 1150.8 927.2 1151.5 928.7 1152.1C930.3 1152.8 931.8 1153.4 933.4 1153.9C934.9 1154.5 936.5 1155.0 938.1 1155.5C939.7 1156.0 941.2 1156.4 942.9 1156.9C944.5 1157.3 946.1 1157.7 947.7 1158.0C949.3 1158.4 951.0 1158.7 952.6 1159.1C954.3 1159.4 955.9 1159.7 957.6 1160.0C959.2 1160.2 960.9 1160.5 962.5 1160.8C964.2 1161.0 965.8 1161.3 967.5 1161.5C969.1 1161.7 970.8 1162.0 972.5 1162.2C974.1 1162.4 975.8 1162.6 977.4 1162.8C979.1 1163.1 980.8 1163.3 982.4 1163.5C984.1 1163.7 985.7 1163.9 987.4 1164.0C989.0 1164.2 990.7 1164.4 992.4 1164.6C994.0 1164.8 995.7 1164.9 997.3 1165.1C999.0 1165.3 1000.7 1165.4 1002.3 1165.6C1004.0 1165.7 1005.6 1165.9 1007.3 1166.0C1009.0 1166.2 1010.6 1166.3 1012.3 1166.4C1013.9 1166.6 1015.6 1166.7 1017.3 1166.8C1018.9 1166.9 1020.6 1167.1 1022.2 1167.2C1023.9 1167.3 1025.6 1167.4 1027.2 1167.5C1028.9 1167.6 1030.5 1167.7 1032.2 1167.8C1033.9 1167.9 1035.5 1168.0 1037.2 1168.1C1038.9 1168.2 1040.5 1168.3 1042.2 1168.3C1043.9 1168.4 1045.5 1168.5 1047.2 1168.6C1048.8 1168.7 1050.5 1168.8 1052.2 1168.9C1053.8 1169.0 1055.5 1169.1 1057.2 1169.2C1058.8 1169.3 1060.5 1169.4 1062.2 1169.5C1063.8 1169.6 1065.5 1169.7 1067.1 1169.9C1068.8 1170.0 1070.5 1170.1 1072.1 1170.3C1073.8 1170.5 1075.4 1170.6 1077.1 1170.8C1078.8 1171.0 1080.4 1171.1 1082.1 1171.3C1083.7 1171.5 1085.4 1171.7 1087.1 1171.9C1088.7 1172.1 1090.4 1172.3 1092.0 1172.5C1093.7 1172.7 1095.3 1172.9 1097.0 1173.1C1098.7 1173.3 1100.3 1173.5 1102.0 1173.7C1103.6 1173.9 1105.3 1174.1 1106.9 1174.3C1108.6 1174.5 1110.3 1174.7 1111.9 1174.9C1113.6 1175.1 1115.2 1175.3 1116.9 1175.5C1118.5 1175.7 1120.2 1175.9 1121.9 1176.1C1123.5 1176.3 1125.2 1176.5 1126.8 1176.6C1128.5 1176.8 1130.2 1177.0 1131.8 1177.2C1133.5 1177.3 1135.1 1177.5 1136.8 1177.7C1138.5 1177.8 1140.1 1178.0 1141.8 1178.2C1143.4 1178.3 1145.1 1178.5 1146.8 1178.6C1148.4 1178.8 1150.1 1178.9 1151.7 1179.1C1153.4 1179.2 1155.1 1179.3 1156.7 1179.5C1158.4 1179.6 1160.0 1179.7 1161.7 1179.9C1163.4 1180.0 1165.0 1180.1 1166.7 1180.2C1168.4 1180.4 1170.0 1180.5 1171.7 1180.6C1173.3 1180.7 1175.0 1180.8 1176.7 1180.9C1178.3 1181.1 1180.0 1181.2 1181.7 1181.3C1183.3 1181.4 1185.0 1181.5 1186.7 1181.6C1188.3 1181.7 1190.0 1181.8 1191.6 1181.8C1193.3 1181.9 1195.0 1182.0 1196.6 1182.1C1198.3 1182.2 1200.0 1182.3 1201.6 1182.4C1203.3 1182.4 1205.0 1182.5 1206.6 1182.6C1208.3 1182.7 1210.0 1182.7 1211.6 1182.8C1213.3 1182.9 1215.0 1183.0 1216.6 1183.0C1218.3 1183.1 1220.0 1183.1 1221.6 1183.2C1223.3 1183.3 1225.0 1183.3 1226.6 1183.4C1228.3 1183.4 1230.0 1183.5 1231.6 1183.5C1233.3 1183.6 1235.0 1183.6 1236.6 1183.7C1238.3 1183.7 1240.0 1183.8 1241.6 1183.8C1243.3 1183.9 1245.0 1183.9 1246.6 1183.9C1248.3 1184.0 1250.0 1184.0 1251.6 1184.0C1253.3 1184.1 1255.0 1184.1 1256.6 1184.1C1258.3 1184.2 1260.0 1184.2 1261.6 1184.2C1263.3 1184.2 1265.0 1184.3 1266.6 1184.3C1268.3 1184.3 1270.0 1184.3 1271.6 1184.3C1273.3 1184.4 1275.0 1184.4 1276.7 1184.4C1278.3 1184.4 1280.0 1184.4 1281.7 1184.4C1283.3 1184.4 1285.0 1184.5 1286.7 1184.5C1288.3 1184.5 1290.0 1184.5 1291.7 1184.5C1293.3 1184.5 1295.0 1184.5 1296.7 1184.5C1298.4 1184.5 1300.0 1184.5 1301.7 1184.5C1303.4 1184.5 1305.0 1184.5 1306.7 1184.5C1308.4 1184.5 1310.0 1184.5 1311.7 1184.5C1313.4 1184.5 1315.0 1184.5 1316.7 1184.5C1318.4 1184.5 1320.1 1184.5 1321.7 1184.5C1323.4 1184.5 1325.1 1184.5 1326.7 1184.4C1328.4 1184.4 1330.1 1184.4 1331.7 1184.4C1333.4 1184.4 1335.1 1184.4 1336.8 1184.4C1338.4 1184.4 1340.1 1184.4 1341.8 1184.3C1343.4 1184.3 1345.1 1184.3 1346.8 1184.3C1348.4 1184.3 1350.1 1184.3 1351.8 1184.3C1353.5 1184.2 1355.1 1184.2 1356.8 1184.2C1358.5 1184.2 1360.1 1184.2 1361.8 1184.1C1363.5 1184.1 1365.2 1184.1 1366.8 1184.1C1368.5 1184.1 1370.2 1184.1 1371.8 1184.0C1373.5 1184.0 1375.2 1184.0 1376.8 1184.0C1378.5 1184.0 1380.2 1183.9 1381.9 1183.9C1383.5 1183.9 1385.2 1183.9 1386.9 1183.9C1388.5 1183.8 1390.2 1183.8 1391.9 1183.8C1393.5 1183.8 1395.2 1183.8 1396.9 1183.7C1398.6 1183.7 1400.2 1183.7 1401.9 1183.7C1403.6 1183.7 1405.2 1183.7 1406.9 1183.6C1408.6 1183.6 1410.2 1183.6 1411.9 1183.6C1413.6 1183.6 1415.3 1183.6 1416.9 1183.5C1418.6 1183.5 1420.3 1183.5 1421.9 1183.5C1423.6 1183.5 1425.3 1183.5 1426.9 1183.4C1428.6 1183.4 1430.3 1183.4 1431.9 1183.4C1433.6 1183.4 1435.3 1183.4 1437.0 1183.4C1438.6 1183.4 1440.3 1183.3 1442.0 1183.3C1443.6 1183.3 1445.3 1183.3 1447.0 1183.3C1448.6 1183.3 1450.3 1183.3 1452.0 1183.3C1453.6 1183.3 1455.3 1183.3 1457.0 1183.3C1458.7 1183.3 1460.3 1183.3 1462.0 1183.3C1463.7 1183.3 1465.3 1183.3 1467.0 1183.3C1468.7 1183.3 1470.3 1183.3 1472.0 1183.3C1473.7 1183.3 1475.3 1183.3 1477.0 1183.3C1478.7 1183.3 1480.3 1183.3 1482.0 1183.3C1483.7 1183.3 1485.3 1183.3 1487.0 1183.3C1488.7 1183.3 1490.3 1183.4 1492.0 1183.4C1493.7 1183.4 1495.3 1183.4 1497.0 1183.4C1498.7 1183.4 1500.3 1183.5 1502.0 1183.5C1503.7 1183.5 1505.3 1183.5 1507.0 1183.5C1508.7 1183.6 1510.3 1183.6 1512.0 1183.6C1513.7 1183.7 1515.3 1183.7 1517.0 1183.7C1518.7 1183.8 1520.3 1183.8 1522.0 1183.8C1523.7 1183.9 1525.3 1183.9 1527.0 1183.9C1528.7 1184.0 1531.2 1184.0 1532.0 1184.1" stroke="#6a55ff" stroke-width="2.9"/>
<path class="curve" d="M313.0 1187.0C313.9 1187.2 316.6 1187.8 318.3 1188.1C320.1 1188.4 321.8 1188.5 323.5 1188.7C325.2 1188.8 326.9 1188.8 328.6 1188.8C330.3 1188.8 331.9 1188.7 333.6 1188.6C335.2 1188.5 336.9 1188.3 338.5 1188.1C340.1 1187.8 341.8 1187.6 343.4 1187.3C345.0 1186.9 346.6 1186.6 348.2 1186.2C349.8 1185.9 351.4 1185.4 353.0 1185.0C354.6 1184.6 356.2 1184.2 357.7 1183.7C359.3 1183.3 360.9 1182.8 362.5 1182.4C364.1 1181.9 365.7 1181.5 367.3 1181.0C368.9 1180.6 370.5 1180.2 372.2 1179.8C373.8 1179.4 375.4 1179.0 377.1 1178.6C378.7 1178.3 380.4 1177.9 382.0 1177.6C383.7 1177.3 385.4 1177.1 387.1 1176.9C388.8 1176.7 390.5 1176.5 392.2 1176.4C393.9 1176.2 395.7 1176.1 397.4 1175.9C399.1 1175.7 400.8 1175.5 402.4 1175.2C404.0 1174.9 405.6 1174.6 407.2 1174.1C408.7 1173.5 410.2 1172.9 411.6 1172.1C413.0 1171.3 414.4 1170.3 415.6 1169.2C416.8 1168.1 417.8 1166.8 418.7 1165.5C419.6 1164.2 420.3 1162.7 420.9 1161.2C421.5 1159.7 422.0 1158.1 422.5 1156.5C423.0 1154.9 423.4 1153.2 423.8 1151.5C424.2 1149.9 424.5 1148.2 424.9 1146.5C425.3 1144.9 425.6 1143.2 426.0 1141.6C426.3 1139.9 426.7 1138.2 427.0 1136.6C427.3 1134.9 427.7 1133.3 428.0 1131.6C428.3 1129.9 428.6 1128.3 428.9 1126.6C429.2 1125.0 429.5 1123.3 429.8 1121.7C430.2 1120.1 430.5 1118.4 430.8 1116.8C431.1 1115.2 431.4 1113.5 431.7 1111.9C432.0 1110.3 432.3 1108.6 432.5 1107.0C432.8 1105.4 433.1 1103.8 433.4 1102.2C433.7 1100.6 434.0 1098.9 434.3 1097.3C434.6 1095.7 434.9 1094.1 435.2 1092.5C435.5 1090.9 435.8 1089.3 436.1 1087.7C436.4 1086.0 436.7 1084.4 437.0 1082.8C437.3 1081.2 437.6 1079.6 437.9 1077.9C438.2 1076.3 438.5 1074.7 438.8 1073.0C439.1 1071.4 439.3 1069.7 439.6 1068.1C439.9 1066.4 440.2 1064.8 440.5 1063.1C440.8 1061.4 441.0 1059.7 441.3 1058.0C441.6 1056.3 441.9 1054.6 442.2 1052.9C442.4 1051.2 442.7 1049.4 443.0 1047.7C443.3 1046.0 443.5 1044.2 443.9 1042.5C444.2 1040.8 444.6 1039.1 445.2 1037.6C445.7 1036.1 446.4 1034.7 447.3 1033.5C448.3 1032.3 449.4 1031.3 450.8 1030.6C452.2 1030.0 454.0 1029.5 455.5 1029.6C457.0 1029.8 458.6 1030.4 459.9 1031.4C461.1 1032.4 462.0 1033.9 462.9 1035.4C463.7 1037.0 464.2 1038.9 464.8 1040.6C465.3 1042.3 465.8 1044.0 466.3 1045.7C466.7 1047.3 467.2 1048.9 467.6 1050.4C468.0 1052.0 468.4 1053.5 468.8 1055.1C469.2 1056.7 469.6 1058.2 470.0 1059.8C470.5 1061.4 470.9 1063.0 471.3 1064.7C471.7 1066.3 472.2 1067.9 472.7 1069.5C473.2 1071.2 473.7 1072.8 474.2 1074.4C474.8 1076.0 475.4 1077.6 476.0 1079.1C476.7 1080.7 477.4 1082.2 478.2 1083.7C478.9 1085.2 479.8 1086.6 480.7 1088.0C481.6 1089.4 482.6 1090.7 483.7 1092.0C484.8 1093.2 485.9 1094.4 487.2 1095.5C488.4 1096.6 489.7 1097.6 491.1 1098.4C492.5 1099.2 494.0 1099.9 495.5 1100.4C497.0 1100.8 498.6 1101.0 500.3 1101.2C501.9 1101.3 503.6 1101.2 505.3 1101.2C507.0 1101.2 508.7 1101.0 510.5 1100.9C512.2 1100.9 514.0 1100.8 515.7 1100.8C517.5 1100.9 519.2 1101.2 520.9 1101.3C522.6 1101.5 524.3 1101.8 525.9 1101.7C527.5 1101.6 529.0 1101.4 530.5 1100.8C532.0 1100.3 533.4 1099.4 534.8 1098.5C536.2 1097.6 537.5 1096.5 538.9 1095.5C540.3 1094.5 541.7 1093.4 543.2 1092.6C544.7 1091.8 546.2 1091.1 547.8 1090.5C549.4 1090.0 551.0 1089.7 552.6 1089.6C554.2 1089.5 555.9 1089.5 557.5 1089.8C559.1 1090.1 560.7 1090.8 562.3 1091.3C564.0 1091.9 565.6 1092.8 567.3 1093.3C568.9 1093.9 570.7 1094.6 572.3 1094.8C573.9 1094.9 575.5 1094.9 577.0 1094.5C578.4 1094.0 579.7 1092.9 580.9 1091.9C582.2 1090.8 583.3 1089.4 584.4 1088.2C585.5 1086.9 586.6 1085.6 587.6 1084.3C588.6 1083.0 589.6 1081.6 590.6 1080.3C591.6 1078.9 592.5 1077.6 593.4 1076.2C594.4 1074.8 595.3 1073.4 596.2 1072.0C597.1 1070.7 598.0 1069.3 598.9 1067.9C599.8 1066.5 600.7 1065.1 601.6 1063.7C602.6 1062.3 603.5 1060.9 604.4 1059.5C605.4 1058.2 606.4 1056.8 607.4 1055.5C608.4 1054.1 609.4 1052.8 610.5 1051.5C611.6 1050.2 612.7 1049.0 613.9 1047.8C615.1 1046.7 616.4 1045.5 617.8 1044.5C619.2 1043.5 620.7 1042.5 622.2 1041.9C623.7 1041.2 625.4 1040.5 626.9 1040.5C628.4 1040.4 629.9 1040.9 631.3 1041.6C632.6 1042.2 633.9 1043.5 635.1 1044.6C636.2 1045.8 637.3 1047.1 638.3 1048.4C639.3 1049.7 640.3 1051.1 641.2 1052.5C642.1 1053.9 643.1 1055.3 644.0 1056.7C644.9 1058.2 645.8 1059.6 646.7 1061.0C647.5 1062.5 648.4 1063.9 649.3 1065.4C650.2 1066.8 651.0 1068.3 651.9 1069.7C652.8 1071.2 653.6 1072.6 654.5 1074.1C655.4 1075.5 656.3 1076.9 657.2 1078.3C658.1 1079.8 659.0 1081.2 659.9 1082.6C660.8 1084.0 661.8 1085.3 662.7 1086.7C663.7 1088.1 664.7 1089.4 665.7 1090.7C666.7 1092.0 667.8 1093.3 668.9 1094.5C669.9 1095.8 671.0 1097.0 672.2 1098.2C673.3 1099.4 674.5 1100.6 675.7 1101.7C676.9 1102.8 678.1 1103.9 679.4 1105.0C680.6 1106.1 681.9 1107.1 683.2 1108.1C684.5 1109.2 685.9 1110.2 687.2 1111.1C688.6 1112.1 689.9 1113.0 691.3 1113.9C692.7 1114.8 694.1 1115.7 695.6 1116.5C697.0 1117.3 698.5 1118.1 700.0 1118.9C701.4 1119.7 702.9 1120.4 704.4 1121.2C705.9 1121.9 707.5 1122.6 709.0 1123.2C710.5 1123.9 712.1 1124.5 713.7 1125.1C715.2 1125.7 716.8 1126.3 718.4 1126.8C720.0 1127.4 721.6 1127.9 723.2 1128.4C724.8 1128.9 726.4 1129.3 728.0 1129.7C729.7 1130.2 731.3 1130.5 732.9 1130.9C734.6 1131.2 736.2 1131.6 737.9 1131.9C739.5 1132.1 741.2 1132.4 742.8 1132.6C744.5 1132.8 746.1 1133.0 747.8 1133.2C749.4 1133.3 751.1 1133.5 752.8 1133.6C754.4 1133.7 756.1 1133.7 757.7 1133.8C759.4 1133.8 761.1 1133.8 762.7 1133.8C764.4 1133.9 766.1 1133.8 767.7 1133.8C769.4 1133.8 771.1 1133.7 772.7 1133.7C774.4 1133.7 776.1 1133.6 777.7 1133.5C779.4 1133.5 781.1 1133.4 782.7 1133.3C784.4 1133.3 786.1 1133.2 787.7 1133.1C789.4 1133.1 791.1 1133.0 792.7 1133.0C794.4 1132.9 796.0 1132.9 797.7 1132.9C799.4 1132.9 801.0 1132.9 802.7 1132.9C804.3 1133.0 806.0 1133.1 807.6 1133.2C809.3 1133.3 810.9 1133.4 812.6 1133.6C814.2 1133.8 815.8 1134.0 817.5 1134.3C819.1 1134.6 820.7 1134.9 822.3 1135.3C824.0 1135.7 825.6 1136.2 827.2 1136.6C828.8 1137.1 830.4 1137.7 832.0 1138.2C833.6 1138.8 835.2 1139.4 836.8 1139.9C838.3 1140.5 839.9 1141.0 841.5 1141.5C843.1 1142.1 844.7 1142.6 846.3 1143.1C847.8 1143.7 849.4 1144.2 851.0 1144.7C852.6 1145.2 854.1 1145.7 855.7 1146.2C857.3 1146.7 858.9 1147.2 860.4 1147.8C862.0 1148.3 863.6 1148.8 865.1 1149.3C866.7 1149.9 868.3 1150.4 869.9 1150.9C871.4 1151.5 873.0 1152.0 874.6 1152.6C876.2 1153.1 877.8 1153.7 879.3 1154.2C880.9 1154.7 882.5 1155.3 884.1 1155.8C885.7 1156.4 887.3 1156.9 888.9 1157.4C890.4 1158.0 892.0 1158.5 893.6 1159.0C895.2 1159.5 896.8 1160.0 898.4 1160.5C900.0 1161.1 901.6 1161.5 903.2 1162.0C904.8 1162.5 906.4 1163.0 908.0 1163.4C909.6 1163.9 911.2 1164.3 912.8 1164.8C914.4 1165.2 916.1 1165.6 917.7 1166.0C919.3 1166.4 920.9 1166.8 922.5 1167.1C924.2 1167.5 925.8 1167.8 927.4 1168.2C929.0 1168.5 930.7 1168.8 932.3 1169.1C933.9 1169.4 935.6 1169.7 937.2 1169.9C938.8 1170.2 940.5 1170.5 942.1 1170.7C943.8 1171.0 945.4 1171.2 947.1 1171.4C948.7 1171.6 950.3 1171.8 952.0 1172.0C953.6 1172.2 955.3 1172.4 957.0 1172.5C958.6 1172.7 960.3 1172.9 961.9 1173.0C963.6 1173.2 965.2 1173.3 966.9 1173.4C968.5 1173.6 970.2 1173.7 971.9 1173.8C973.5 1173.9 975.2 1174.0 976.9 1174.1C978.5 1174.2 980.2 1174.3 981.9 1174.4C983.5 1174.5 985.2 1174.6 986.9 1174.6C988.5 1174.7 990.2 1174.8 991.9 1174.8C993.5 1174.9 995.2 1175.0 996.9 1175.0C998.6 1175.1 1000.2 1175.1 1001.9 1175.2C1003.6 1175.2 1005.3 1175.3 1006.9 1175.3C1008.6 1175.3 1010.3 1175.4 1012.0 1175.4C1013.6 1175.5 1015.3 1175.5 1017.0 1175.5C1018.6 1175.6 1020.3 1175.6 1022.0 1175.6C1023.7 1175.7 1025.3 1175.7 1027.0 1175.7C1028.7 1175.8 1030.4 1175.8 1032.0 1175.9C1033.7 1175.9 1035.4 1175.9 1037.1 1176.0C1038.7 1176.0 1040.4 1176.1 1042.1 1176.1C1043.8 1176.2 1045.4 1176.2 1047.1 1176.3C1048.8 1176.4 1050.4 1176.4 1052.1 1176.5C1053.8 1176.6 1055.4 1176.7 1057.1 1176.7C1058.8 1176.8 1060.4 1176.9 1062.1 1177.0C1063.8 1177.1 1065.4 1177.2 1067.1 1177.3C1068.8 1177.4 1070.4 1177.5 1072.1 1177.6C1073.7 1177.7 1075.4 1177.8 1077.1 1177.9C1078.7 1178.0 1080.4 1178.1 1082.1 1178.2C1083.7 1178.3 1085.4 1178.4 1087.0 1178.6C1088.7 1178.7 1090.4 1178.8 1092.0 1178.9C1093.7 1179.1 1095.3 1179.2 1097.0 1179.3C1098.7 1179.4 1100.3 1179.5 1102.0 1179.7C1103.6 1179.8 1105.3 1179.9 1106.9 1180.1C1108.6 1180.2 1110.3 1180.3 1111.9 1180.4C1113.6 1180.6 1115.2 1180.7 1116.9 1180.8C1118.6 1180.9 1120.2 1181.1 1121.9 1181.2C1123.5 1181.3 1125.2 1181.4 1126.9 1181.6C1128.5 1181.7 1130.2 1181.8 1131.8 1181.9C1133.5 1182.0 1135.2 1182.1 1136.8 1182.3C1138.5 1182.4 1140.1 1182.5 1141.8 1182.6C1143.5 1182.7 1145.1 1182.8 1146.8 1182.9C1148.4 1183.0 1150.1 1183.1 1151.8 1183.2C1153.4 1183.3 1155.1 1183.4 1156.8 1183.5C1158.4 1183.6 1160.1 1183.7 1161.8 1183.7C1163.4 1183.8 1165.1 1183.9 1166.8 1184.0C1168.4 1184.0 1170.1 1184.1 1171.8 1184.2C1173.4 1184.2 1175.1 1184.3 1176.8 1184.4C1178.4 1184.4 1180.1 1184.5 1181.8 1184.6C1183.5 1184.6 1185.1 1184.7 1186.8 1184.7C1188.5 1184.8 1190.1 1184.8 1191.8 1184.9C1193.5 1184.9 1195.2 1184.9 1196.8 1185.0C1198.5 1185.0 1200.2 1185.1 1201.8 1185.1C1203.5 1185.1 1205.2 1185.2 1206.9 1185.2C1208.5 1185.2 1210.2 1185.2 1211.9 1185.3C1213.6 1185.3 1215.2 1185.3 1216.9 1185.3C1218.6 1185.3 1220.3 1185.4 1221.9 1185.4C1223.6 1185.4 1225.3 1185.4 1227.0 1185.4C1228.6 1185.4 1230.3 1185.4 1232.0 1185.4C1233.7 1185.5 1235.4 1185.5 1237.0 1185.5C1238.7 1185.5 1240.4 1185.5 1242.1 1185.5C1243.7 1185.5 1245.4 1185.5 1247.1 1185.5C1248.8 1185.5 1250.5 1185.4 1252.1 1185.4C1253.8 1185.4 1255.5 1185.4 1257.2 1185.4C1258.9 1185.4 1260.5 1185.4 1262.2 1185.4C1263.9 1185.4 1265.6 1185.3 1267.3 1185.3C1268.9 1185.3 1270.6 1185.3 1272.3 1185.3C1274.0 1185.3 1275.7 1185.2 1277.3 1185.2C1279.0 1185.2 1280.7 1185.2 1282.4 1185.2C1284.1 1185.1 1285.7 1185.1 1287.4 1185.1C1289.1 1185.1 1290.8 1185.0 1292.5 1185.0C1294.1 1185.0 1295.8 1185.0 1297.5 1184.9C1299.2 1184.9 1300.9 1184.9 1302.5 1184.8C1304.2 1184.8 1305.9 1184.8 1307.6 1184.8C1309.3 1184.7 1310.9 1184.7 1312.6 1184.7C1314.3 1184.6 1316.0 1184.6 1317.7 1184.6C1319.3 1184.5 1321.0 1184.5 1322.7 1184.5C1324.4 1184.4 1326.0 1184.4 1327.7 1184.4C1329.4 1184.3 1331.1 1184.3 1332.8 1184.3C1334.4 1184.2 1336.1 1184.2 1337.8 1184.2C1339.5 1184.1 1341.2 1184.1 1342.8 1184.1C1344.5 1184.0 1346.2 1184.0 1347.9 1184.0C1349.5 1183.9 1351.2 1183.9 1352.9 1183.9C1354.6 1183.9 1356.3 1183.8 1357.9 1183.8C1359.6 1183.8 1361.3 1183.7 1363.0 1183.7C1364.6 1183.7 1366.3 1183.6 1368.0 1183.6C1369.7 1183.6 1371.3 1183.6 1373.0 1183.5C1374.7 1183.5 1376.4 1183.5 1378.0 1183.5C1379.7 1183.4 1381.4 1183.4 1383.1 1183.4C1384.7 1183.4 1386.4 1183.3 1388.1 1183.3C1389.7 1183.3 1391.4 1183.3 1393.1 1183.3C1394.8 1183.2 1396.4 1183.2 1398.1 1183.2C1399.8 1183.2 1401.4 1183.2 1403.1 1183.1C1404.8 1183.1 1406.4 1183.1 1408.1 1183.1C1409.8 1183.1 1411.5 1183.1 1413.1 1183.1C1414.8 1183.1 1416.5 1183.1 1418.1 1183.1C1419.8 1183.1 1421.5 1183.1 1423.1 1183.1C1424.8 1183.0 1426.4 1183.0 1428.1 1183.1C1429.8 1183.1 1431.4 1183.1 1433.1 1183.1C1434.8 1183.1 1436.4 1183.1 1438.1 1183.1C1439.8 1183.1 1441.4 1183.1 1443.1 1183.1C1444.7 1183.1 1446.4 1183.1 1448.1 1183.2C1449.7 1183.2 1451.4 1183.2 1453.0 1183.2C1454.7 1183.2 1456.3 1183.3 1458.0 1183.3C1459.7 1183.3 1461.3 1183.4 1463.0 1183.4C1464.6 1183.4 1466.3 1183.5 1467.9 1183.5C1469.6 1183.5 1471.2 1183.6 1472.9 1183.6C1474.5 1183.7 1476.2 1183.7 1477.8 1183.8C1479.5 1183.8 1481.1 1183.9 1482.8 1183.9C1484.4 1184.0 1486.1 1184.0 1487.7 1184.1C1489.4 1184.1 1491.0 1184.2 1492.7 1184.3C1494.3 1184.3 1496.0 1184.4 1497.6 1184.5C1499.3 1184.5 1500.9 1184.6 1502.5 1184.7C1504.2 1184.8 1505.8 1184.9 1507.5 1184.9C1509.1 1185.0 1510.7 1185.1 1512.4 1185.2C1514.0 1185.3 1515.7 1185.4 1517.3 1185.5C1518.9 1185.6 1520.6 1185.7 1522.2 1185.8C1523.8 1185.9 1525.5 1186.0 1527.1 1186.1C1528.7 1186.3 1531.2 1186.4 1532.0 1186.5" stroke="#7aa5a3" stroke-width="2.9"/>
<path class="curve" d="M313.0 1186.8C313.8 1186.9 316.4 1187.1 318.0 1187.2C319.7 1187.3 321.4 1187.4 323.1 1187.4C324.7 1187.4 326.4 1187.4 328.1 1187.4C329.7 1187.4 331.4 1187.3 333.1 1187.2C334.8 1187.1 336.4 1187.0 338.1 1186.8C339.8 1186.6 341.4 1186.5 343.1 1186.2C344.7 1186.0 346.4 1185.8 348.0 1185.5C349.7 1185.2 351.3 1185.0 353.0 1184.6C354.6 1184.3 356.3 1184.0 357.9 1183.6C359.5 1183.3 361.2 1182.9 362.8 1182.5C364.4 1182.1 366.0 1181.6 367.7 1181.2C369.3 1180.8 370.9 1180.3 372.5 1179.8C374.1 1179.4 375.7 1178.9 377.3 1178.4C378.9 1177.9 380.5 1177.4 382.0 1176.8C383.6 1176.3 385.2 1175.8 386.8 1175.2C388.3 1174.7 389.9 1174.1 391.4 1173.5C393.0 1173.0 394.6 1172.4 396.1 1171.9C397.7 1171.3 399.3 1170.8 400.9 1170.3C402.5 1169.8 404.2 1169.4 405.8 1169.0C407.5 1168.5 409.3 1168.2 410.9 1167.8C412.5 1167.3 414.2 1167.0 415.7 1166.3C417.1 1165.6 418.5 1164.8 419.6 1163.7C420.7 1162.6 421.6 1161.3 422.4 1159.9C423.2 1158.4 423.8 1156.8 424.4 1155.2C425.0 1153.5 425.5 1151.8 426.0 1150.1C426.5 1148.4 427.0 1146.8 427.4 1145.2C427.9 1143.5 428.3 1141.9 428.7 1140.3C429.2 1138.7 429.6 1137.2 430.0 1135.6C430.4 1134.0 430.7 1132.4 431.1 1130.8C431.5 1129.1 431.8 1127.5 432.1 1125.9C432.5 1124.3 432.8 1122.7 433.1 1121.0C433.4 1119.4 433.7 1117.8 434.0 1116.1C434.3 1114.5 434.5 1112.8 434.8 1111.2C435.1 1109.5 435.3 1107.9 435.6 1106.2C435.8 1104.6 436.1 1102.9 436.3 1101.3C436.5 1099.6 436.8 1097.9 437.0 1096.3C437.2 1094.6 437.4 1093.0 437.6 1091.3C437.8 1089.6 438.1 1088.0 438.3 1086.3C438.5 1084.7 438.7 1083.0 438.9 1081.3C439.1 1079.7 439.2 1078.0 439.4 1076.3C439.6 1074.7 439.8 1073.0 440.0 1071.4C440.2 1069.7 440.3 1068.0 440.5 1066.4C440.7 1064.7 440.9 1063.0 441.0 1061.4C441.2 1059.7 441.4 1058.0 441.5 1056.4C441.7 1054.7 441.8 1053.0 442.0 1051.4C442.1 1049.7 442.3 1048.0 442.5 1046.4C442.6 1044.7 442.8 1043.0 442.9 1041.4C443.0 1039.7 443.2 1038.0 443.3 1036.4C443.5 1034.7 443.6 1033.0 443.8 1031.4C443.9 1029.7 444.1 1028.0 444.2 1026.4C444.3 1024.7 444.5 1023.0 444.6 1021.4C444.7 1019.7 444.9 1018.0 445.0 1016.4C445.2 1014.7 445.3 1013.0 445.4 1011.4C445.6 1009.7 445.7 1008.0 445.8 1006.4C446.0 1004.7 446.1 1003.0 446.3 1001.4C446.4 999.7 446.5 998.1 446.7 996.4C446.8 994.7 446.9 993.1 447.1 991.4C447.2 989.7 447.4 988.1 447.5 986.4C447.7 984.7 447.8 983.1 447.9 981.4C448.1 979.7 448.2 978.1 448.4 976.4C448.5 974.8 448.7 973.1 448.8 971.4C449.0 969.8 449.2 968.1 449.3 966.5C449.5 964.8 449.6 963.1 449.8 961.5C450.0 959.8 450.1 958.2 450.3 956.5C450.5 954.8 450.6 953.2 450.8 951.5C451.0 949.9 451.2 948.2 451.4 946.6C451.5 944.9 451.7 943.2 451.9 941.6C452.1 939.9 452.3 938.3 452.5 936.6C452.7 935.0 452.9 933.3 453.1 931.7C453.3 930.0 453.5 928.4 453.7 926.7C454.0 925.1 454.2 923.4 454.4 921.8C454.6 920.1 454.9 918.5 455.1 916.8C455.3 915.2 455.6 913.5 455.8 911.9C456.1 910.2 456.3 908.6 456.6 906.9C456.8 905.2 457.1 903.6 457.4 901.9C457.6 900.2 457.9 898.5 458.2 896.8C458.5 895.1 458.8 893.4 459.2 891.8C459.7 890.1 460.2 888.4 460.9 886.8C461.6 885.2 462.6 883.3 463.5 882.3C464.5 881.3 465.7 880.6 466.7 880.9C467.7 881.3 468.7 883.1 469.4 884.4C470.2 885.8 470.8 887.4 471.4 889.0C471.9 890.6 472.3 892.2 472.6 893.9C472.9 895.5 473.1 897.2 473.3 898.9C473.5 900.7 473.7 902.4 473.8 904.1C474.0 905.8 474.1 907.5 474.3 909.3C474.5 911.0 474.6 912.7 474.8 914.4C475.0 916.0 475.2 917.7 475.4 919.4C475.6 921.1 475.8 922.8 476.0 924.4C476.2 926.1 476.5 927.7 476.7 929.4C476.9 931.1 477.2 932.7 477.4 934.4C477.6 936.0 477.9 937.6 478.1 939.3C478.4 940.9 478.6 942.6 478.9 944.2C479.1 945.8 479.4 947.5 479.7 949.1C479.9 950.7 480.2 952.4 480.4 954.0C480.7 955.7 481.0 957.3 481.2 958.9C481.5 960.6 481.7 962.2 482.0 963.8C482.3 965.5 482.5 967.1 482.8 968.8C483.0 970.4 483.3 972.1 483.5 973.7C483.8 975.4 484.0 977.0 484.2 978.7C484.5 980.4 484.7 982.0 484.9 983.7C485.2 985.4 485.4 987.0 485.6 988.7C485.9 990.4 486.1 992.0 486.3 993.7C486.5 995.4 486.8 997.0 487.0 998.7C487.2 1000.4 487.5 1002.0 487.7 1003.7C488.0 1005.4 488.2 1007.0 488.4 1008.7C488.7 1010.3 488.9 1012.0 489.2 1013.6C489.5 1015.3 489.7 1016.9 490.0 1018.5C490.3 1020.2 490.5 1021.8 490.8 1023.4C491.1 1025.0 491.4 1026.6 491.7 1028.2C492.0 1029.9 492.3 1031.5 492.6 1033.1C492.9 1034.8 493.2 1036.4 493.5 1038.1C493.8 1039.8 494.1 1041.5 494.4 1043.3C494.8 1045.0 495.1 1046.8 495.6 1048.4C496.2 1050.0 496.8 1051.5 497.8 1052.7C498.8 1053.9 500.2 1054.9 501.7 1055.6C503.2 1056.3 505.0 1056.7 506.7 1057.0C508.4 1057.2 510.2 1057.0 511.9 1057.0C513.7 1057.0 515.4 1056.7 517.0 1056.8C518.6 1056.9 520.2 1057.1 521.7 1057.6C523.2 1058.1 524.6 1059.2 526.1 1060.0C527.6 1060.7 529.1 1061.7 530.7 1062.3C532.4 1062.8 534.2 1063.2 535.9 1063.3C537.6 1063.4 539.4 1063.2 541.0 1062.8C542.6 1062.4 544.1 1061.6 545.6 1060.8C547.1 1060.0 548.3 1058.6 549.7 1057.8C551.2 1057.0 552.8 1056.3 554.4 1055.9C556.0 1055.6 557.8 1055.5 559.4 1055.8C561.1 1056.0 562.9 1056.5 564.5 1057.2C566.1 1058.0 567.6 1059.2 569.2 1060.0C570.8 1060.7 572.4 1061.5 574.0 1061.7C575.6 1061.9 577.3 1061.6 578.8 1061.2C580.2 1060.7 581.7 1060.0 582.9 1059.1C584.2 1058.2 585.3 1057.1 586.4 1055.9C587.4 1054.7 588.4 1053.4 589.2 1051.9C590.1 1050.5 590.9 1049.0 591.7 1047.4C592.4 1045.8 593.1 1044.2 593.8 1042.5C594.5 1040.9 595.2 1039.3 595.9 1037.7C596.5 1036.1 597.2 1034.5 597.9 1033.0C598.6 1031.4 599.3 1029.9 599.9 1028.4C600.6 1026.9 601.3 1025.4 602.0 1023.9C602.7 1022.4 603.4 1021.0 604.1 1019.5C604.8 1018.0 605.4 1016.6 606.1 1015.1C606.8 1013.6 607.5 1012.1 608.2 1010.6C608.9 1009.1 609.6 1007.6 610.3 1006.1C611.0 1004.6 611.7 1003.1 612.4 1001.6C613.1 1000.0 613.8 998.5 614.5 997.0C615.2 995.4 615.9 993.9 616.7 992.4C617.4 990.9 618.1 989.3 618.9 987.8C619.6 986.3 620.4 984.8 621.1 983.3C621.9 981.8 622.6 980.3 623.4 978.8C624.2 977.3 625.0 975.8 625.8 974.3C626.6 972.9 627.4 971.3 628.3 970.0C629.3 968.7 630.2 967.3 631.5 966.2C632.7 965.2 634.4 964.2 635.9 963.8C637.5 963.3 639.2 963.2 640.8 963.4C642.4 963.7 643.9 964.5 645.3 965.4C646.8 966.2 648.1 967.5 649.2 968.8C650.4 970.0 651.3 971.5 652.1 973.0C653.0 974.4 653.6 976.0 654.2 977.6C654.8 979.1 655.3 980.8 655.8 982.4C656.3 984.0 656.7 985.6 657.2 987.2C657.7 988.8 658.2 990.4 658.8 992.0C659.3 993.6 659.8 995.2 660.3 996.8C660.9 998.3 661.4 999.9 662.0 1001.4C662.5 1003.0 663.1 1004.6 663.7 1006.1C664.2 1007.7 664.8 1009.2 665.4 1010.8C666.0 1012.3 666.6 1013.9 667.1 1015.4C667.7 1017.0 668.3 1018.5 668.9 1020.1C669.5 1021.6 670.1 1023.2 670.7 1024.8C671.3 1026.3 671.9 1027.9 672.5 1029.5C673.1 1031.0 673.7 1032.6 674.3 1034.2C674.9 1035.8 675.5 1037.4 676.1 1038.9C676.7 1040.5 677.4 1042.1 678.0 1043.6C678.7 1045.2 679.3 1046.7 680.0 1048.3C680.7 1049.8 681.4 1051.4 682.1 1052.9C682.8 1054.4 683.5 1055.9 684.3 1057.4C685.0 1058.9 685.8 1060.4 686.6 1061.9C687.4 1063.3 688.3 1064.8 689.1 1066.2C690.0 1067.6 690.9 1069.0 691.8 1070.4C692.7 1071.8 693.7 1073.1 694.7 1074.4C695.7 1075.7 696.7 1077.0 697.8 1078.3C698.8 1079.6 699.9 1080.8 701.1 1082.0C702.2 1083.2 703.4 1084.4 704.6 1085.6C705.7 1086.7 707.0 1087.9 708.2 1089.0C709.5 1090.1 710.7 1091.1 712.0 1092.2C713.4 1093.2 714.7 1094.2 716.0 1095.2C717.4 1096.2 718.8 1097.2 720.2 1098.1C721.6 1099.1 723.0 1100.0 724.4 1100.9C725.8 1101.8 727.3 1102.6 728.8 1103.4C730.2 1104.2 731.7 1105.0 733.2 1105.8C734.8 1106.5 736.3 1107.2 737.8 1107.9C739.4 1108.6 740.9 1109.2 742.5 1109.8C744.0 1110.4 745.6 1110.9 747.2 1111.4C748.8 1111.9 750.4 1112.4 752.0 1112.8C753.6 1113.2 755.2 1113.6 756.8 1113.9C758.4 1114.2 760.1 1114.4 761.7 1114.6C763.4 1114.8 765.0 1115.0 766.6 1115.1C768.3 1115.2 769.9 1115.3 771.6 1115.3C773.3 1115.4 774.9 1115.4 776.6 1115.4C778.2 1115.4 779.9 1115.3 781.6 1115.3C783.3 1115.2 784.9 1115.1 786.6 1115.1C788.3 1115.0 790.0 1114.9 791.6 1114.8C793.3 1114.7 795.0 1114.5 796.7 1114.4C798.4 1114.3 800.0 1114.2 801.7 1114.1C803.4 1114.0 805.1 1113.9 806.8 1113.8C808.4 1113.8 810.1 1113.7 811.8 1113.6C813.5 1113.6 815.1 1113.5 816.8 1113.5C818.5 1113.5 820.1 1113.5 821.8 1113.6C823.5 1113.6 825.1 1113.7 826.8 1113.8C828.5 1113.9 830.1 1114.0 831.8 1114.1C833.4 1114.3 835.0 1114.5 836.7 1114.8C838.3 1115.0 840.0 1115.3 841.6 1115.6C843.2 1115.9 844.8 1116.3 846.5 1116.7C848.1 1117.1 849.7 1117.6 851.3 1118.1C852.9 1118.6 854.5 1119.2 856.0 1119.8C857.6 1120.4 859.2 1121.0 860.7 1121.6C862.3 1122.3 863.8 1123.0 865.3 1123.7C866.8 1124.4 868.3 1125.2 869.8 1125.9C871.3 1126.7 872.8 1127.5 874.2 1128.3C875.7 1129.1 877.1 1130.0 878.5 1130.8C880.0 1131.7 881.4 1132.5 882.8 1133.4C884.2 1134.3 885.7 1135.2 887.1 1136.0C888.5 1136.9 889.9 1137.8 891.3 1138.7C892.7 1139.6 894.2 1140.4 895.6 1141.3C897.0 1142.2 898.4 1143.0 899.9 1143.9C901.3 1144.7 902.8 1145.5 904.2 1146.3C905.7 1147.1 907.2 1147.9 908.7 1148.7C910.2 1149.4 911.7 1150.2 913.2 1150.9C914.7 1151.6 916.2 1152.3 917.8 1153.0C919.3 1153.6 920.9 1154.3 922.4 1154.9C924.0 1155.5 925.6 1156.1 927.2 1156.6C928.7 1157.2 930.3 1157.7 931.9 1158.2C933.5 1158.8 935.1 1159.2 936.7 1159.7C938.3 1160.2 939.9 1160.6 941.6 1161.0C943.2 1161.4 944.8 1161.8 946.4 1162.2C948.0 1162.5 949.7 1162.9 951.3 1163.2C952.9 1163.5 954.6 1163.8 956.2 1164.1C957.8 1164.4 959.5 1164.6 961.1 1164.9C962.8 1165.1 964.4 1165.3 966.1 1165.6C967.7 1165.8 969.4 1166.0 971.0 1166.2C972.7 1166.4 974.4 1166.5 976.0 1166.7C977.7 1166.9 979.3 1167.0 981.0 1167.1C982.7 1167.3 984.3 1167.4 986.0 1167.5C987.7 1167.7 989.4 1167.8 991.0 1167.9C992.7 1168.0 994.4 1168.1 996.0 1168.2C997.7 1168.3 999.4 1168.4 1001.1 1168.5C1002.7 1168.6 1004.4 1168.7 1006.1 1168.8C1007.8 1168.8 1009.4 1168.9 1011.1 1169.0C1012.8 1169.1 1014.5 1169.2 1016.1 1169.3C1017.8 1169.4 1019.5 1169.5 1021.1 1169.6C1022.8 1169.7 1024.5 1169.7 1026.2 1169.8C1027.8 1169.9 1029.5 1170.1 1031.2 1170.2C1032.8 1170.3 1034.5 1170.4 1036.2 1170.5C1037.8 1170.6 1039.5 1170.7 1041.2 1170.8C1042.8 1170.9 1044.5 1171.0 1046.2 1171.1C1047.8 1171.3 1049.5 1171.4 1051.2 1171.5C1052.8 1171.6 1054.5 1171.7 1056.2 1171.9C1057.8 1172.0 1059.5 1172.1 1061.2 1172.2C1062.8 1172.3 1064.5 1172.5 1066.2 1172.6C1067.8 1172.7 1069.5 1172.8 1071.2 1172.9C1072.8 1173.1 1074.5 1173.2 1076.1 1173.3C1077.8 1173.4 1079.5 1173.6 1081.1 1173.7C1082.8 1173.8 1084.5 1173.9 1086.1 1174.1C1087.8 1174.2 1089.5 1174.3 1091.1 1174.4C1092.8 1174.5 1094.5 1174.7 1096.1 1174.8C1097.8 1174.9 1099.5 1175.0 1101.1 1175.1C1102.8 1175.3 1104.4 1175.4 1106.1 1175.5C1107.8 1175.6 1109.4 1175.7 1111.1 1175.9C1112.8 1176.0 1114.4 1176.1 1116.1 1176.2C1117.8 1176.3 1119.4 1176.5 1121.1 1176.6C1122.8 1176.7 1124.4 1176.8 1126.1 1176.9C1127.8 1177.0 1129.4 1177.2 1131.1 1177.3C1132.8 1177.4 1134.4 1177.5 1136.1 1177.6C1137.8 1177.7 1139.4 1177.8 1141.1 1177.9C1142.8 1178.1 1144.4 1178.2 1146.1 1178.3C1147.8 1178.4 1149.4 1178.5 1151.1 1178.6C1152.8 1178.7 1154.5 1178.8 1156.1 1178.9C1157.8 1179.0 1159.5 1179.1 1161.1 1179.2C1162.8 1179.3 1164.5 1179.4 1166.1 1179.5C1167.8 1179.6 1169.5 1179.7 1171.1 1179.8C1172.8 1179.9 1174.5 1180.0 1176.1 1180.1C1177.8 1180.2 1179.5 1180.3 1181.1 1180.4C1182.8 1180.5 1184.5 1180.6 1186.2 1180.7C1187.8 1180.8 1189.5 1180.9 1191.2 1181.0C1192.8 1181.1 1194.5 1181.2 1196.2 1181.2C1197.8 1181.3 1199.5 1181.4 1201.2 1181.5C1202.8 1181.6 1204.5 1181.7 1206.2 1181.7C1207.9 1181.8 1209.5 1181.9 1211.2 1182.0C1212.9 1182.1 1214.5 1182.1 1216.2 1182.2C1217.9 1182.3 1219.5 1182.4 1221.2 1182.4C1222.9 1182.5 1224.5 1182.6 1226.2 1182.7C1227.9 1182.7 1229.6 1182.8 1231.2 1182.9C1232.9 1182.9 1234.6 1183.0 1236.2 1183.1C1237.9 1183.1 1239.6 1183.2 1241.2 1183.2C1242.9 1183.3 1244.6 1183.4 1246.3 1183.4C1247.9 1183.5 1249.6 1183.5 1251.3 1183.6C1252.9 1183.6 1254.6 1183.7 1256.3 1183.7C1258.0 1183.8 1259.6 1183.8 1261.3 1183.9C1263.0 1183.9 1264.6 1184.0 1266.3 1184.0C1268.0 1184.0 1269.6 1184.1 1271.3 1184.1C1273.0 1184.2 1274.7 1184.2 1276.3 1184.2C1278.0 1184.3 1279.7 1184.3 1281.3 1184.3C1283.0 1184.4 1284.7 1184.4 1286.4 1184.4C1288.0 1184.5 1289.7 1184.5 1291.4 1184.5C1293.0 1184.5 1294.7 1184.6 1296.4 1184.6C1298.0 1184.6 1299.7 1184.6 1301.4 1184.7C1303.1 1184.7 1304.7 1184.7 1306.4 1184.7C1308.1 1184.7 1309.7 1184.8 1311.4 1184.8C1313.1 1184.8 1314.8 1184.8 1316.4 1184.8C1318.1 1184.8 1319.8 1184.9 1321.4 1184.9C1323.1 1184.9 1324.8 1184.9 1326.5 1184.9C1328.1 1184.9 1329.8 1184.9 1331.5 1184.9C1333.1 1184.9 1334.8 1184.9 1336.5 1185.0C1338.2 1185.0 1339.8 1185.0 1341.5 1185.0C1343.2 1185.0 1344.8 1185.0 1346.5 1185.0C1348.2 1185.0 1349.8 1185.0 1351.5 1185.0C1353.2 1185.0 1354.9 1185.0 1356.5 1185.0C1358.2 1185.0 1359.9 1185.0 1361.5 1185.0C1363.2 1185.0 1364.9 1185.0 1366.6 1185.0C1368.2 1185.0 1369.9 1185.0 1371.6 1185.0C1373.2 1185.0 1374.9 1185.0 1376.6 1185.0C1378.3 1185.0 1379.9 1185.0 1381.6 1185.0C1383.3 1185.0 1384.9 1185.0 1386.6 1185.0C1388.3 1185.0 1390.0 1185.0 1391.6 1185.0C1393.3 1185.0 1395.0 1185.0 1396.6 1185.0C1398.3 1185.0 1400.0 1185.0 1401.7 1184.9C1403.3 1184.9 1405.0 1184.9 1406.7 1184.9C1408.3 1184.9 1410.0 1184.9 1411.7 1184.9C1413.4 1184.9 1415.0 1184.9 1416.7 1184.9C1418.4 1184.9 1420.0 1184.9 1421.7 1184.9C1423.4 1184.9 1425.1 1184.9 1426.7 1184.9C1428.4 1184.9 1430.1 1184.9 1431.7 1184.9C1433.4 1184.9 1435.1 1184.9 1436.8 1184.9C1438.4 1184.9 1440.1 1184.9 1441.8 1184.9C1443.4 1184.9 1445.1 1184.9 1446.8 1184.9C1448.5 1184.9 1450.1 1184.9 1451.8 1184.9C1453.5 1184.9 1455.1 1184.9 1456.8 1184.9C1458.5 1184.9 1460.2 1184.9 1461.8 1184.9C1463.5 1184.9 1465.2 1184.9 1466.8 1184.9C1468.5 1184.9 1470.2 1184.9 1471.9 1184.9C1473.5 1184.9 1475.2 1184.9 1476.9 1184.9C1478.5 1184.9 1480.2 1184.9 1481.9 1184.9C1483.5 1184.9 1485.2 1184.9 1486.9 1185.0C1488.6 1185.0 1490.2 1185.0 1491.9 1185.0C1493.6 1185.0 1495.2 1185.0 1496.9 1185.0C1498.6 1185.0 1500.3 1185.1 1501.9 1185.1C1503.6 1185.1 1505.3 1185.1 1506.9 1185.1C1508.6 1185.2 1510.3 1185.2 1512.0 1185.2C1513.6 1185.2 1515.3 1185.2 1517.0 1185.3C1518.6 1185.3 1520.3 1185.3 1522.0 1185.3C1523.6 1185.4 1525.3 1185.4 1527.0 1185.4C1528.7 1185.4 1531.2 1185.5 1532.0 1185.5" stroke="#ff55ff" stroke-width="2.9"/>
</g>
<g filter="url(#b2)">
<text class="tick" x="313.0" y="1263" text-anchor="middle" textLength="76" lengthAdjust="spacingAndGlyphs">360</text>
<text class="tick" x="489.8" y="1263" text-anchor="middle" textLength="76" lengthAdjust="spacingAndGlyphs">380</text>
<text class="tick" x="666.5" y="1263" text-anchor="middle" textLength="76" lengthAdjust="spacingAndGlyphs">400</text>
<text class="tick" x="843.3" y="1263" text-anchor="middle" textLength="76" lengthAdjust="spacingAndGlyphs">420</text>
<text class="tick" x="1020.0" y="1263" text-anchor="middle" textLength="76" lengthAdjust="spacingAndGlyphs">440</text>
<text class="tick" x="1196.8" y="1263" text-anchor="middle" textLength="76" lengthAdjust="spacingAndGlyphs">460</text>
<text class="tick" x="1373.6" y="1263" text-anchor="middle" textLength="76" lengthAdjust="spacingAndGlyphs">480</text>
<text class="tick" x="1550.3" y="1263" text-anchor="middle" textLength="76" lengthAdjust="spacingAndGlyphs">500</text>
<text class="tick" x="1727.1" y="1263" text-anchor="middle" textLength="76" lengthAdjust="spacingAndGlyphs">520</text>
<text class="tick" x="127.5" y="1049.4" textLength="135.5" lengthAdjust="spacingAndGlyphs">5.0x10</text>
<text class="sup" x="260" y="1025.0" textLength="16.5" lengthAdjust="spacingAndGlyphs">5</text>
<text class="tick" x="127.5" y="891.6" textLength="135.5" lengthAdjust="spacingAndGlyphs">1.0x10</text>
<text class="sup" x="260" y="867.2" textLength="16.5" lengthAdjust="spacingAndGlyphs">6</text>
<text class="tick" x="127.5" y="733.7" textLength="135.5" lengthAdjust="spacingAndGlyphs">1.5x10</text>
<text class="sup" x="260" y="709.3" textLength="16.5" lengthAdjust="spacingAndGlyphs">6</text>
<text class="tick" x="127.5" y="575.9" textLength="135.5" lengthAdjust="spacingAndGlyphs">2.0x10</text>
<text class="sup" x="260" y="551.5" textLength="16.5" lengthAdjust="spacingAndGlyphs">6</text>
<text class="tick" x="127.5" y="418.0" textLength="135.5" lengthAdjust="spacingAndGlyphs">2.5x10</text>
<text class="sup" x="260" y="393.6" textLength="16.5" lengthAdjust="spacingAndGlyphs">6</text>
<text class="tick" x="127.5" y="260.1" textLength="135.5" lengthAdjust="spacingAndGlyphs">3.0x10</text>
<text class="sup" x="260" y="235.7" textLength="16.5" lengthAdjust="spacingAndGlyphs">6</text>
<text class="tick" x="127.5" y="102.3" textLength="135.5" lengthAdjust="spacingAndGlyphs">3.5x10</text>
<text class="sup" x="260" y="77.9" textLength="16.5" lengthAdjust="spacingAndGlyphs">6</text>
<text class="tick" x="214" y="1199" textLength="61" lengthAdjust="spacingAndGlyphs">0.0</text>
<text class="title" x="809.7" y="1348.6" textLength="419" lengthAdjust="spacingAndGlyphs">Wavelength (nm)</text>
<text class="title" transform="translate(90,925) rotate(-90)" x="0" y="0" textLength="538.5" lengthAdjust="spacingAndGlyphs">Relative Intensity, a.u.</text>
<rect x="1231" y="136.8" width="125" height="3.7" fill="#777777"/>
<rect x="1288" y="133.3" width="10.8" height="10.6" fill="#000000"/>
<text class="leg" x="1369" y="156.8" textLength="146" lengthAdjust="spacingAndGlyphs">TPM1</text>
<rect x="1231" y="202.1" width="125" height="6.0" fill="#ffb4b4"/>
<rect x="1288" y="199.8" width="10.8" height="10.6" fill="#ff0000"/>
<text class="leg" x="1369" y="223.3" textLength="146" lengthAdjust="spacingAndGlyphs">TPM2</text>
<rect x="1231" y="269.8" width="125" height="3.7" fill="#5a3cff"/>
<rect x="1288" y="266.3" width="10.8" height="10.6" fill="#2a00ff"/>
<text class="leg" x="1369" y="289.8" textLength="146" lengthAdjust="spacingAndGlyphs">TPM3</text>
<rect x="1231" y="335.6" width="125" height="5.0" fill="#d3e2df"/>
<rect x="1288" y="332.8" width="10.8" height="10.6" fill="#2a8080"/>
<text class="leg" x="1369" y="356.3" textLength="146" lengthAdjust="spacingAndGlyphs">TPM4</text>
<rect x="1231" y="402.8" width="125" height="3.7" fill="#ff40ff"/>
<rect x="1288" y="399.3" width="10.8" height="10.6" fill="#ff00ff"/>
<text class="leg" x="1369" y="422.8" textLength="146" lengthAdjust="spacingAndGlyphs">TPM5</text>
</g>
</svg>
</body></html>
